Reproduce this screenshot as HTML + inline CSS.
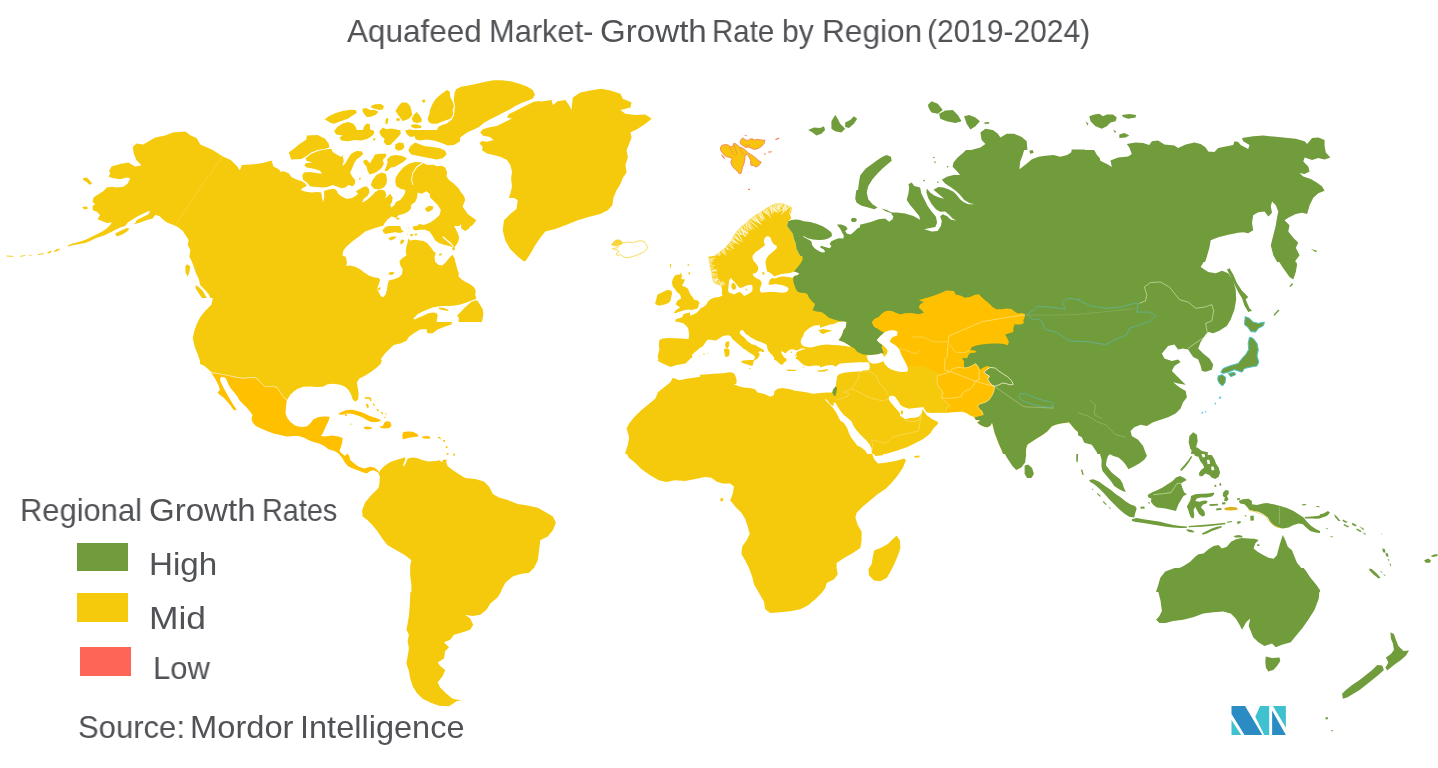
<!DOCTYPE html>
<html><head><meta charset="utf-8"><title>Aquafeed Market - Growth Rate by Region (2019-2024)</title>
<style>
html,body{margin:0;padding:0;background:#fff;}
body{width:1438px;height:768px;position:relative;overflow:hidden;font-family:"Liberation Sans",sans-serif;color:#505256;}
svg{position:absolute;left:0;top:0;}
.t{position:absolute;white-space:nowrap;line-height:1;font-size:32px;transform-origin:0 0;will-change:transform;}
.box{position:absolute;width:51px;height:28px;}
</style></head><body>
<svg width="1438" height="768" viewBox="0 0 1438 768">
<clipPath id="cA1"><rect x="0" y="70" width="360" height="192"/></clipPath>
<g id="tA1" clip-path="url(#cA1)">
<polygon fill="#f6ca0c"  points="5.0,256.5 15.0,257.0 25.0,255.8 37.6,254.8 47.6,252.3 57.6,249.0 67.6,244.7 77.6,242.2 87.6,238.2 100.1,233.2 110.2,227.7 117.7,222.7 113.9,223.2 105.1,222.7 98.1,219.7 100.1,214.7 95.1,210.7 92.1,206.4 93.1,200.2 98.9,194.4 107.7,189.7 117.7,187.2 125.2,185.2 129.7,180.2 122.7,179.2 112.7,178.2 108.9,172.6 111.4,166.4 120.2,164.1 128.2,162.6 135.2,166.6 141.4,165.6 136.4,160.1 133.9,153.9 132.7,147.1 136.4,143.4 143.2,144.4 155.2,137.6 165.2,135.6 172.7,132.6 185.3,131.6 190.8,135.6 196.5,138.1 200.3,144.6 212.8,150.1 222.8,156.4 230.8,160.1 237.3,166.4 239.8,170.6 241.8,165.1 250.4,164.6 262.9,163.1 271.6,160.6 273.4,166.4 278.4,168.9 281.6,172.1 287.9,172.1 295.4,175.1 303.4,182.2 306.7,187.2 315.9,189.7 322.5,190.7 321.7,201.4 325.0,193.2 335.5,188.9 346.0,195.2 353.0,198.2 361.8,196.4 361.8,230.2 355.5,237.7 346.7,245.2 342.5,255.3 345.0,264.0 190.3,264.0 187.3,255.3 185.8,245.2 186.5,235.2 182.8,229.0 175.2,225.2 165.2,222.7 160.2,217.7 153.2,215.2 150.2,211.7 140.2,214.7 130.2,218.2 120.2,222.0 112.7,227.2 100.1,234.7 87.6,240.2 77.6,243.7 67.6,246.2 57.6,250.5 47.6,253.8 37.6,256.0 25.0,257.3 5.0,257.8"/>
<polygon fill="#f6ca0c"  points="82.6,178.2 87.6,177.7 91.4,181.4 90.1,184.7 86.4,182.7 83.9,180.7"/>
<polygon fill="#f6ca0c"  points="82.1,206.4 87.6,206.4 88.1,208.9 83.9,209.2"/>
<polygon fill="#f6ca0c"  points="115.2,234.0 122.7,230.2 128.9,227.7 128.2,230.7 120.2,235.2 115.7,236.5"/>
<polygon fill="#f6ca0c"  points="135.2,222.7 142.7,217.7 150.2,214.0 156.5,215.2 150.2,220.2 140.2,224.0"/>
<polygon fill="#f6ca0c"  points="289.2,151.4 297.9,145.1 305.9,135.6 317.9,134.6 328.0,138.8 329.2,147.6 323.0,149.6 310.4,153.9 300.4,158.1 290.4,159.6"/>
<polygon fill="#f6ca0c"  points="302.9,165.1 310.4,158.1 323.0,152.6 331.7,149.6 338.0,153.9 343.0,157.6 341.0,166.4 349.2,155.1 355.5,151.4 361.8,150.6 361.8,190.2 355.5,191.4 348.0,189.7 338.0,186.4 325.5,187.7 312.9,187.2 303.4,181.4 301.7,173.9 317.9,172.6 304.2,168.9"/>
<polygon fill="#f6ca0c"  points="325.0,118.8 333.0,115.1 345.5,111.3 355.5,110.1 358.0,115.1 350.5,118.8 355.5,122.6 361.8,123.8 361.8,140.1 350.5,141.3 340.5,138.8 334.2,133.8 338.0,128.8 331.7,126.3 333.0,122.1"/>
</g>
<clipPath id="cA2"><rect x="360" y="70" width="360" height="192"/></clipPath>
<g id="tA2" clip-path="url(#cA2)">
<polygon fill="#f6ca0c"  points="480.2,131.3 490.2,127.6 500.2,125.6 507.7,121.3 506.5,117.6 512.7,113.8 522.7,110.1 525.2,105.0 532.7,102.5 542.8,101.3 551.5,100.0 552.8,105.0 557.8,101.3 565.3,100.0 569.0,105.0 571.5,110.1 572.8,97.5 580.3,92.5 592.8,90.0 601.6,88.8 610.4,90.5 620.4,93.8 622.9,98.8 631.6,102.5 630.4,107.6 620.4,110.1 625.4,113.8 635.4,115.1 645.4,114.6 651.7,118.8 645.4,123.8 637.9,128.8 630.4,132.6 631.6,137.6 629.1,143.9 626.6,150.1 627.9,157.6 625.4,165.1 626.6,172.6 622.9,177.7 620.4,183.9 616.6,190.2 613.4,197.7 612.4,205.2 607.8,210.2 600.3,214.0 590.3,216.5 577.8,220.2 565.3,225.2 555.3,229.0 545.3,231.5 540.3,237.7 535.2,245.2 530.2,254.0 525.7,260.8 524.0,261.5 517.7,256.5 510.2,249.0 505.2,240.2 502.7,230.2 504.0,220.2 510.2,214.0 516.5,208.9 517.7,200.2 510.2,195.2 511.5,187.7 512.7,177.7 510.2,167.6 509.0,160.1 502.7,156.4 492.7,153.9 483.9,152.6 480.2,147.6 482.7,142.6 478.9,137.6"/>
<polygon fill="#f6ca0c"  points="455.1,88.8 470.2,83.8 490.2,80.5 507.7,80.5 522.7,83.8 532.7,90.0 534.5,96.3 525.2,101.3 517.7,107.1 507.7,112.1 495.2,118.1 485.2,122.1 477.7,127.1 470.2,133.1 462.6,138.1 457.6,141.3 458.9,145.1 447.6,146.4 435.1,143.1 423.8,140.6 420.1,137.1 427.6,134.1 435.1,131.6 432.6,126.6 427.6,123.1 427.6,115.6 433.1,111.3 430.1,106.6 435.1,100.0 442.6,93.8 448.9,90.5 450.6,97.5 453.9,95.0"/>
<polygon fill="#f6ca0c"  points="408.8,145.1 417.6,142.6 425.1,143.9 435.1,145.1 445.1,148.1 446.4,153.9 440.1,158.1 430.1,157.6 420.1,156.4 411.3,153.9 407.6,149.6"/>
<polygon fill="#f6ca0c"  points="362.5,110.1 370.0,107.6 375.0,105.0 382.5,104.5 383.8,108.8 377.5,111.3 372.5,115.1 367.5,117.1 363.0,114.6"/>
<polygon fill="#f6ca0c"  points="396.3,107.6 402.6,102.5 408.8,103.8 411.3,110.1 407.6,116.3 410.1,120.1 405.1,121.3 400.1,117.6 395.0,112.6"/>
<polygon fill="#f6ca0c"  points="411.3,118.8 416.3,112.6 421.3,118.8 422.1,123.1 413.8,123.1"/>
<polygon fill="#f6ca0c"  points="421.3,100.0 425.6,98.8 426.3,102.0 422.6,103.0"/>
<polygon fill="#f6ca0c"  points="358.7,128.8 365.0,123.8 370.0,123.8 368.8,131.3 373.8,133.8 372.5,138.8 365.0,140.1 358.7,139.6"/>
<polygon fill="#f6ca0c"  points="385.0,118.8 388.8,117.6 388.0,123.8 385.0,123.8"/>
<polygon fill="#f6ca0c"  points="380.0,130.1 385.0,128.1 391.3,131.3 400.1,130.1 397.6,137.6 392.5,143.9 386.3,145.1 381.3,137.6"/>
<polygon fill="#f6ca0c"  points="406.3,130.1 411.3,129.6 416.3,135.6 412.6,137.1 407.6,134.6"/>
<polygon fill="#f6ca0c"  points="396.3,143.9 401.3,142.6 403.8,148.9 400.1,150.6 396.3,148.1"/>
<polygon fill="#f6ca0c"  points="363.8,161.4 370.0,156.4 377.5,153.9 385.0,154.6 383.8,160.1 378.8,165.1 373.8,170.1 368.8,173.9 365.0,168.9"/>
<polygon fill="#f6ca0c"  points="385.0,161.4 391.3,156.4 400.1,155.1 406.3,157.6 402.6,163.1 395.0,165.1 390.0,168.9 386.3,166.4"/>
<polygon fill="#f6ca0c"  points="396.3,180.2 400.1,175.1 406.3,168.9 413.8,163.1 421.3,162.1 423.8,166.4 416.3,168.9 411.3,175.1 413.8,180.2 420.1,172.6 426.3,166.4 432.6,165.1 440.1,166.4 446.4,170.1 447.6,175.1 451.4,181.4 458.9,187.7 463.9,193.9 465.1,200.2 462.6,206.4 467.7,214.0 476.4,220.2 471.4,226.5 465.1,230.2 460.1,224.0 456.4,230.2 458.9,236.5 453.9,242.7 448.9,245.2 442.6,240.2 436.4,234.0 432.6,229.0 423.8,230.2 416.3,229.0 413.8,225.2 422.6,222.7 430.1,220.2 437.6,217.7 440.1,211.4 435.1,206.4 431.3,200.2 427.6,193.9 420.1,191.4 411.3,189.7 402.6,187.7 397.6,185.2"/>
<polygon fill="#f6ca0c"  points="358.7,178.2 367.5,175.1 375.0,171.4 383.8,171.4 386.3,177.7 385.0,186.4 388.8,192.7 392.5,195.2 391.3,202.7 393.8,206.4 400.1,200.2 406.3,193.9 413.8,192.7 417.6,196.4 413.8,203.9 408.8,210.2 402.6,215.2 395.0,216.5 390.0,212.7 385.0,220.2 377.5,225.2 370.0,230.2 362.5,234.0 358.7,234.0"/>
<polygon fill="#f6ca0c"  points="382.5,230.2 387.5,224.0 391.3,217.7 397.6,222.7 403.8,230.2 400.1,234.0 390.0,234.0 385.0,232.7"/>
<polygon fill="#f6ca0c"  points="400.1,264.0 406.3,250.3 410.1,241.5 420.1,240.2 427.6,242.7 433.9,250.3 435.1,257.8 432.6,264.0"/>
<polygon fill="#f6ca0c"  points="446.4,264.0 450.1,256.5 453.9,256.5 455.1,264.0"/>
<polygon fill="#f6ca0c"  points="425.1,207.7 431.3,205.2 435.1,207.7 428.8,211.4"/>
<polygon fill="#ffffff" stroke="#f5c80f" stroke-width="0.7" points="611.6,245.2 615.4,241.5 621.6,240.2 625.4,242.7 632.9,242.2 640.4,241.5 645.4,242.7 647.4,247.2 642.9,251.5 635.4,255.3 627.9,257.3 620.4,255.3 615.4,251.5 612.4,249.0"/>
<polygon fill="#f6ca0c"  points="709.2,257.8 715.5,252.8 721.8,250.3 721.8,264.0 710.5,264.0"/>
</g>
<clipPath id="cA3"><rect x="720" y="70" width="360" height="192"/></clipPath>
<g id="tA3" clip-path="url(#cA3)">
<polygon fill="#709c3c"  points="802.6,264.0 797.6,250.3 793.9,240.2 790.1,232.7 787.6,225.2 791.3,221.5 797.6,219.7 805.1,221.5 815.1,223.2 825.1,226.5 831.4,231.5 830.2,237.7 822.6,240.7 815.1,240.2 807.6,238.2 803.9,236.5 810.1,242.7 813.9,248.2 820.1,250.8 822.6,252.8 826.4,249.0 830.2,245.2 831.4,242.7 837.7,240.2 842.7,237.7 841.4,232.7 837.7,226.5 842.7,224.0 847.7,226.5 846.4,231.5 850.2,232.7 856.4,229.0 862.7,225.2 870.2,222.7 880.2,221.5 886.5,219.0 892.7,220.2 891.5,215.2 885.2,212.7 882.7,208.9 890.2,212.7 897.7,212.2 905.3,214.0 912.8,216.5 919.0,219.7 915.3,212.7 910.3,206.4 906.5,200.2 909.0,190.2 911.5,186.4 920.3,187.7 924.0,197.7 927.8,206.4 932.8,215.2 936.6,222.7 934.0,227.7 925.3,229.0 935.3,230.2 940.3,222.7 939.1,216.5 945.3,214.0 952.8,220.2 955.3,220.2 946.6,212.7 940.3,211.4 932.8,205.2 927.8,196.4 925.3,190.2 932.8,195.2 942.8,198.9 935.3,192.7 932.8,187.7 940.3,186.4 950.3,188.9 956.6,193.9 961.6,200.2 970.4,203.9 964.1,200.2 960.3,193.9 955.3,190.2 945.3,183.9 941.6,178.9 947.8,175.1 956.6,173.9 951.6,167.6 954.1,162.6 960.3,157.6 966.6,152.6 972.9,149.6 980.4,147.6 985.4,143.9 981.6,140.1 980.4,132.6 985.4,128.8 992.9,130.1 997.9,133.8 1000.4,137.6 1006.7,133.8 1014.2,133.8 1021.7,137.1 1026.7,141.3 1027.4,150.1 1024.2,157.6 1020.4,165.1 1019.2,170.1 1025.4,165.1 1030.4,160.1 1037.9,156.4 1050.5,155.1 1060.5,156.4 1070.5,152.6 1071.7,149.6 1078.0,149.6 1081.8,151.4 1081.8,264.0"/>
<polygon fill="#709c3c"  points="880.2,157.6 886.5,155.1 891.5,157.6 891.5,162.1 885.2,166.4 880.2,171.4 875.2,177.7 870.2,185.2 867.7,192.7 869.0,200.2 874.0,205.2 877.7,208.9 870.2,208.2 861.4,205.2 855.2,200.2 857.7,192.7 858.9,182.7 860.2,175.1 865.2,168.9 871.5,163.9"/>
<polygon fill="#709c3c"  points="927.8,105.0 931.5,101.3 937.8,103.8 942.8,110.1 937.8,113.8 931.5,112.6 929.0,108.8"/>
<polygon fill="#709c3c"  points="939.1,113.8 945.3,110.6 952.8,110.1 957.8,115.1 961.6,121.3 955.3,123.1 946.6,121.3 940.3,118.8"/>
<polygon fill="#709c3c"  points="964.1,116.3 969.1,115.1 975.4,117.6 979.9,121.3 975.4,126.3 970.4,129.6 966.6,123.8"/>
<polygon fill="#709c3c"  points="984.1,122.6 989.1,122.1 989.1,123.8 984.9,124.1"/>
<polygon fill="#709c3c"  points="808.1,130.1 813.9,127.6 820.1,128.1 823.9,126.3 825.1,130.1 821.4,133.8 816.4,135.6 812.6,132.6"/>
<polygon fill="#709c3c"  points="831.4,121.3 835.2,115.1 837.7,118.8 840.2,123.8 845.2,128.8 841.4,132.6 835.2,131.3 831.4,128.8"/>
<polygon fill="#709c3c"  points="845.2,122.6 850.2,120.1 853.9,116.3 857.2,118.8 853.9,123.8 848.9,128.1 845.2,127.1"/>
<polygon fill="#709c3c"  points="1029.2,150.6 1033.4,150.1 1034.2,153.1 1030.4,153.9"/>
<polygon fill="#709c3c"  points="851.4,219.0 856.4,217.7 857.2,221.0 852.7,222.0"/>
<polygon fill="#fdbc14" stroke="#f9844a" stroke-width="0.6" points="720.0,146.4 727.5,144.6 733.8,145.1 738.8,142.6 743.8,147.6 747.5,152.6 752.5,156.4 757.6,160.1 760.1,163.9 756.3,167.1 751.3,165.1 749.5,160.1 745.0,158.9 743.8,166.4 741.3,172.6 738.8,173.9 735.0,168.9 731.3,163.9 730.0,158.9 723.8,156.4 721.3,151.4"/>
<polygon fill="#fdbc14" stroke="#f9844a" stroke-width="0.6" points="740.0,141.3 745.0,138.1 752.5,138.8 761.3,139.6 765.6,141.3 762.6,146.4 757.6,149.6 750.0,148.9 745.0,145.1"/>
<polygon fill="#f9844a"  points="775.1,138.8 779.6,137.6 779.1,139.6 775.6,140.6"/>
<polygon fill="#f9844a"  points="765.1,153.1 767.6,152.6 767.1,154.6"/>
<polygon fill="#f9844a"  points="768.8,151.4 772.1,150.6 771.6,152.6"/>
<polygon fill="#f9844a"  points="748.0,188.9 750.0,188.4 750.0,190.7 748.3,190.7"/>
<polygon fill="#fdf4cc" stroke="#f5c80f" stroke-width="0.6" points="718.7,264.0 722.5,255.3 727.5,245.2 733.8,235.2 741.3,225.2 750.0,216.5 760.1,210.2 770.1,205.2 780.1,203.9 790.1,206.4 792.1,212.7 787.6,217.7 785.6,220.2 777.6,216.5 770.1,217.7 762.6,220.2 755.0,225.2 747.5,232.7 741.3,242.7 735.0,252.8 730.0,264.0"/>
<polygon fill="#f6ca0c"  points="802.6,264.0 797.6,250.3 793.9,240.2 790.1,232.7 787.6,225.2 785.6,220.2 777.6,216.5 770.1,217.7 762.6,220.2 755.0,225.2 747.5,232.7 741.3,242.7 735.0,252.8 730.0,264.0"/>
<polygon fill="#ffffff"  points="767.6,235.2 771.3,238.2 771.3,244.0 777.6,245.2 776.3,250.3 770.1,254.0 763.8,259.0 757.6,264.0 752.0,264.0 753.8,256.5 758.8,250.3 763.8,244.0 764.6,238.2"/>
</g>
<clipPath id="cA4"><rect x="1078" y="70" width="360" height="192"/></clipPath>
<g id="tA4" clip-path="url(#cA4)">
<polygon fill="#709c3c"  points="1076.7,149.6 1084.3,149.6 1090.5,152.6 1095.5,157.6 1101.8,161.4 1108.0,164.6 1111.8,167.1 1110.5,160.6 1118.1,157.6 1128.1,156.4 1131.8,153.9 1129.3,147.6 1126.8,143.9 1135.6,142.6 1143.1,143.1 1149.3,145.1 1151.9,141.3 1158.1,140.6 1164.4,144.6 1174.4,145.6 1178.1,148.1 1185.7,144.6 1194.4,142.6 1200.7,143.9 1205.7,147.6 1208.2,151.4 1214.4,152.1 1218.2,148.1 1225.7,146.4 1233.2,145.1 1234.5,141.3 1238.2,142.1 1240.7,145.1 1248.2,148.9 1249.5,145.1 1243.2,141.3 1242.0,138.1 1253.2,136.3 1263.3,135.6 1273.3,136.6 1283.3,137.6 1295.8,138.8 1304.6,141.3 1307.1,143.9 1312.1,138.1 1318.3,137.6 1324.6,140.1 1324.6,146.4 1325.8,152.6 1330.4,157.6 1324.6,159.6 1318.3,158.1 1312.1,160.1 1304.6,157.6 1303.3,161.4 1308.3,166.4 1309.6,171.4 1304.6,173.9 1299.6,173.1 1303.3,176.4 1310.8,178.9 1317.1,182.7 1322.1,186.4 1324.6,190.7 1318.3,193.2 1313.3,197.7 1309.6,205.2 1307.1,214.0 1302.1,212.7 1295.8,214.0 1288.3,217.7 1284.5,220.2 1289.5,225.2 1288.3,231.5 1293.3,237.7 1298.3,242.7 1295.8,247.7 1299.6,255.3 1295.8,260.3 1294.6,264.0 1278.3,264.0 1273.3,255.3 1270.8,245.2 1273.3,235.2 1275.8,225.2 1277.0,217.7 1278.3,211.4 1275.8,205.2 1272.0,201.4 1270.8,206.4 1272.0,212.7 1268.3,216.5 1264.5,211.4 1258.3,212.2 1253.2,215.2 1252.0,222.7 1253.2,230.2 1248.2,233.2 1243.2,232.2 1238.2,232.7 1228.2,234.7 1218.2,237.2 1210.7,240.2 1209.4,247.7 1206.9,256.5 1204.4,264.0 1076.7,264.0"/>
<polygon fill="#709c3c"  points="1089.3,116.3 1094.3,114.6 1099.3,113.8 1103.0,116.3 1106.8,114.6 1113.0,114.6 1116.8,117.6 1115.6,121.3 1110.5,122.6 1106.8,126.3 1101.8,128.8 1095.5,126.3 1090.5,121.3"/>
<polygon fill="#709c3c"  points="1121.8,115.1 1129.3,114.1 1136.1,115.1 1135.6,117.6 1128.1,118.8 1123.1,117.1"/>
<polygon fill="#709c3c"  points="1119.3,134.6 1124.3,133.1 1129.3,135.6 1125.6,137.6 1119.3,138.1"/>
<polygon fill="#709c3c"  points="1085.5,121.3 1088.5,123.8 1087.5,125.6"/>
<polygon fill="#709c3c"  points="1113.0,130.1 1116.1,131.3 1115.1,133.1"/>
<polygon fill="#709c3c"  points="1310.8,249.0 1317.1,250.8 1315.8,252.3"/>
</g>
<clipPath id="cB1"><rect x="0" y="262" width="360" height="192"/></clipPath>
<g id="tB1" clip-path="url(#cB1)">
<polygon fill="#f6ca0c"  points="194.0,260.7 197.8,269.5 200.3,277.0 197.8,284.5 202.8,287.0 209.0,292.0 212.8,298.3 211.5,304.6 205.3,310.8 200.3,317.1 196.5,324.6 194.0,332.1 192.8,338.4 194.8,347.1 197.8,354.6 200.3,362.1 205.3,365.9 211.5,369.7 212.8,372.7 225.3,374.7 237.8,377.7 247.8,377.7 255.4,377.2 261.6,382.2 265.4,385.9 275.4,385.9 280.4,390.9 284.1,395.9 287.9,399.2 290.4,393.4 295.4,389.2 302.9,386.7 312.9,387.2 320.4,386.7 328.0,383.4 336.7,384.2 344.2,385.9 349.2,390.9 350.5,397.2 354.2,401.7 358.0,399.2 358.5,392.2 356.7,384.7 361.8,379.7 361.8,260.7"/>
<polygon fill="#f6ca0c"  points="185.8,265.8 190.3,264.5 190.8,269.5 187.8,275.8 185.8,272.0"/>
<polygon fill="#ffc000"  points="212.3,372.7 225.3,375.2 237.8,378.2 247.8,378.2 255.4,377.7 261.6,382.7 265.4,386.4 275.4,386.4 280.4,391.4 284.1,396.4 287.9,399.7 286.7,407.2 285.4,414.7 287.9,421.0 294.2,426.0 302.9,427.2 310.4,424.7 314.2,418.5 323.0,416.7 330.5,416.7 328.0,422.2 324.2,428.5 320.4,433.5 316.7,434.7 311.7,434.7 310.4,441.0 306.7,442.3 300.4,438.5 292.9,434.7 282.9,434.7 272.9,432.2 262.9,428.5 255.4,423.5 251.6,418.5 250.4,412.2 246.6,407.2 241.6,402.2 236.6,395.9 231.6,389.7 227.8,383.4 225.3,378.4 220.3,377.2 221.6,382.2 225.3,389.7 230.3,398.4 235.3,406.0 236.6,409.7 232.8,409.2 227.8,403.4 221.6,395.9 217.8,392.2 219.1,387.2 215.3,380.9 212.8,375.9"/>
<polygon fill="#ffc000"  points="306.7,442.3 310.4,441.0 311.7,434.7 316.7,434.7 320.4,433.5 324.2,437.2 333.0,435.2 342.5,437.2 341.7,444.8 339.2,452.3 336.7,456.0 328.0,456.0 323.0,449.8 315.4,444.8 310.4,444.3"/>
<polygon fill="#ffc000"  points="336.7,413.5 344.2,411.0 353.0,409.7 361.8,411.0 361.8,414.7 353.0,412.7 345.5,413.5 339.2,415.2"/>
</g>
<clipPath id="cB2"><rect x="360" y="262" width="360" height="192"/></clipPath>
<g id="tB2" clip-path="url(#cB2)">
<polygon fill="#f6ca0c"  points="358.7,269.5 367.5,273.8 375.0,277.5 379.5,280.0 378.5,287.0 380.0,294.5 383.8,297.5 386.5,292.0 387.5,283.5 392.5,280.0 400.1,276.0 403.1,269.5 401.6,263.3 397.6,260.7 435.1,260.7 437.6,264.5 443.9,265.0 446.4,260.7 456.4,260.7 457.6,269.5 460.1,277.0 466.4,283.3 472.7,288.3 475.7,293.3 473.9,299.6 467.7,302.1 460.1,304.6 452.6,307.1 445.1,308.3 437.6,307.1 431.3,310.8 425.1,312.1 418.8,314.6 412.6,318.3 417.6,317.1 425.1,313.3 432.6,310.8 440.1,312.1 446.4,315.8 452.6,320.8 451.4,324.6 445.1,326.6 437.6,329.6 432.6,333.3 427.6,333.3 426.3,329.1 420.1,329.6 413.8,333.3 408.8,337.1 406.3,340.9 400.1,343.4 393.8,345.1 390.0,348.4 385.0,353.4 381.3,358.4 380.0,363.4 375.0,368.4 368.8,372.2 362.5,375.2 358.7,376.2"/>
<polygon fill="#f6ca0c"  points="388.8,272.0 393.8,271.5 394.3,274.5 389.3,275.0"/>
<polygon fill="#f6ca0c"  points="456.4,314.6 460.1,310.8 466.4,304.6 472.7,302.1 475.7,303.3 473.9,308.3 480.2,310.8 482.7,315.8 481.4,320.8 476.4,322.1 472.7,319.1 466.4,319.6 460.1,317.6"/>
<polygon fill="#f6ca0c"  points="440.1,307.6 448.9,308.6 448.9,310.6 440.6,309.6"/>
<polygon fill="#ffc000"  points="358.7,412.2 365.0,414.2 371.3,416.7 377.5,419.2 381.3,421.0 377.5,422.7 370.0,421.0 363.8,417.7 358.7,416.0"/>
<polygon fill="#f6ca0c"  points="363.0,426.7 368.8,426.0 372.5,427.7 368.8,429.7 363.8,429.2"/>
<polygon fill="#f6ca0c"  points="379.5,426.0 383.8,422.2 388.8,421.0 392.0,423.5 390.5,427.7 385.0,428.5 381.3,427.7"/>
<polygon fill="#f6ca0c"  points="402.1,434.7 403.8,431.7 410.1,431.2 416.3,433.5 418.8,436.0 416.3,438.5 410.1,438.5 403.8,439.7"/>
<polygon fill="#f6ca0c"  points="422.6,436.0 430.1,436.7 431.3,438.2 423.8,438.2"/>
<polygon fill="#f6ca0c"  points="438.1,437.2 440.1,437.2 440.1,439.5 438.1,439.5"/>
<polygon fill="#f6ca0c"  points="442.6,441.0 444.6,441.0 444.6,443.3 442.6,443.3"/>
<polygon fill="#f6ca0c"  points="445.1,446.0 447.1,446.0 447.1,448.3 445.1,448.3"/>
<polygon fill="#f6ca0c"  points="446.4,450.3 448.4,450.3 448.4,452.5 446.4,452.5"/>
<polygon fill="#f6ca0c"  points="365.0,397.4 371.5,397.4 371.5,399.2 365.0,399.2"/>
<polygon fill="#f6ca0c"  points="367.5,404.7 369.5,404.7 369.5,407.2 367.5,407.2"/>
<polygon fill="#f6ca0c"  points="373.8,406.2 376.0,406.2 376.0,409.2 373.8,409.2"/>
<polygon fill="#f6ca0c"  points="381.5,411.2 384.8,411.2 384.8,413.7 381.5,413.7"/>
<polygon fill="#f6ca0c"  points="655.4,302.1 657.9,294.5 664.2,290.8 670.4,289.5 672.9,293.3 671.7,299.6 666.7,303.3 660.4,305.8"/>
<polygon fill="#f6ca0c"  points="672.9,274.5 676.7,275.8 681.7,278.3 683.0,283.3 680.4,287.0 685.5,288.3 690.5,293.3 694.2,299.6 699.2,302.1 698.0,307.1 693.0,309.6 685.5,310.8 677.9,312.1 674.2,313.3 677.9,308.3 683.0,305.8 677.9,303.3 679.2,297.0 676.7,292.0 677.9,287.0 672.9,284.5 671.7,279.5"/>
<polygon fill="#f6ca0c"  points="709.2,260.7 710.5,269.5 713.0,277.0 716.7,283.3 721.8,285.8 721.8,260.7"/>
<polygon fill="#f6ca0c"  points="721.8,297.0 715.5,299.6 709.2,302.1 703.0,305.8 698.0,310.8 693.0,314.6 683.0,315.8 676.7,318.3 674.2,322.1 680.4,323.3 685.5,325.8 688.0,330.8 689.2,337.1 683.0,338.4 672.9,338.4 664.2,339.1 659.2,340.9 657.9,348.4 659.2,354.6 657.9,360.9 662.9,363.4 670.4,367.1 676.7,365.1 685.5,363.4 690.5,358.4 695.5,352.1 701.7,347.1 706.7,342.1 713.0,340.1 721.8,341.6"/>
<polygon fill="#f6ca0c"  points="701.7,354.6 706.7,353.4 707.5,355.1 702.5,356.1"/>
<polygon fill="#f6ca0c"  points="721.8,373.4 710.5,374.7 700.5,376.7 688.0,378.4 679.2,380.2 672.9,377.7 670.4,382.2 664.2,387.2 657.9,392.2 655.4,398.4 647.9,404.7 640.4,411.0 634.1,417.2 629.1,423.5 626.6,428.5 629.1,437.2 627.9,444.8 625.4,452.3 624.9,456.0 721.8,456.0"/>
</g>
<clipPath id="cB3a"><rect x="720" y="262" width="180" height="96"/></clipPath>
<g id="tB3a" clip-path="url(#cB3a)">
<polygon fill="#f6ca0c"  points="719.4,261.4 900.9,261.4 900.9,359.0 719.4,359.0"/>
<polygon fill="#709c3c"  points="801.4,261.4 797.6,267.0 795.1,272.0 793.9,277.0 793.2,282.0 795.1,287.0 798.2,291.4 802.6,293.3 807.6,294.8 809.5,298.3 812.6,302.1 815.1,303.9 813.9,307.1 812.6,310.2 816.4,311.4 821.4,312.1 825.1,314.6 828.9,317.7 833.9,319.6 838.3,320.8 842.7,321.5 846.4,322.1 845.8,327.1 843.3,330.2 842.0,334.6 840.2,337.7 838.3,340.2 843.3,342.1 848.9,345.2 854.6,348.4 856.4,350.9 858.9,352.8 863.9,354.6 870.2,355.3 876.5,354.6 882.7,354.0 884.6,352.1 881.5,348.4 879.6,344.6 877.1,342.1 876.5,339.6 879.0,337.1 882.7,335.2 881.5,332.1 877.1,329.0 873.3,325.8 872.1,322.1 874.6,319.0 879.0,317.1 881.5,313.9 885.2,311.4 889.0,310.8 892.7,311.4 896.5,313.3 900.9,314.6 900.9,261.4"/>
<polygon fill="#ffc000"  points="900.9,314.6 896.5,313.3 892.7,311.4 889.0,310.8 885.2,311.4 881.5,313.9 879.0,317.1 874.6,319.0 872.1,322.1 873.3,325.8 877.1,329.0 881.5,332.1 882.7,334.0 886.5,331.5 891.5,330.2 895.2,330.6 897.1,332.1 897.7,334.6 900.9,336.5"/>
<polygon fill="#ffc000"  points="900.9,336.9 896.5,337.4 892.7,339.0 889.6,341.5 892.1,343.4 895.2,344.6 897.7,347.1 899.0,349.6 900.9,351.1"/>
<polygon fill="#ffffff"  points="882.7,334.0 886.5,331.5 891.5,330.2 895.2,330.6 897.1,332.1 897.7,334.6 900.9,336.5 900.9,336.9 896.5,337.4 892.7,339.0 889.6,341.5 892.1,343.4 895.2,344.6 897.7,347.1 899.0,349.6 900.9,351.1 900.9,359.0 888.4,359.0 887.7,354.6 887.1,349.6 884.6,345.6 880.8,344.0 877.7,343.1 876.2,340.2 878.3,337.7"/>
<polygon fill="#ffffff"  points="753.2,261.4 756.3,267.0 757.6,270.8 754.4,272.6 752.3,274.5 752.8,277.6 756.3,278.9 758.2,282.0 755.0,283.9 753.2,287.0 753.8,290.2 750.0,289.5 746.3,286.4 742.5,288.9 740.0,291.4 743.8,295.2 746.9,293.9 751.3,291.4 756.3,290.5 760.1,292.0 763.2,292.7 770.1,292.0 776.3,292.3 782.6,292.7 787.6,291.4 788.6,288.3 786.3,285.8 781.3,284.8 776.3,284.3 772.6,284.5 768.8,284.3 768.2,282.0 770.1,278.9 773.8,277.6 775.1,276.0 778.8,275.1 785.1,274.5 790.1,275.8 793.9,277.6 795.1,275.1 798.9,273.9 797.0,272.3 792.6,272.6 787.6,273.0 782.6,273.3 777.6,274.5 773.8,275.1 770.1,273.9 766.9,272.0 766.1,268.3 766.3,261.4"/>
<polygon fill="#ffffff"  points="729.4,279.5 731.9,278.3 733.1,282.0 735.0,280.8 736.9,283.9 738.8,287.0 737.5,291.4 734.4,292.7 731.9,290.2 730.0,291.4 728.8,287.0"/>
<polygon fill="#ffffff"  points="719.4,286.4 721.9,287.0 722.5,292.0 721.9,296.0 719.4,296.8"/>
<polygon fill="#ffffff"  points="740.0,330.8 743.2,330.2 745.0,333.3 748.8,337.1 753.8,340.9 758.8,343.4 763.8,345.2 766.3,348.4 768.2,352.1 769.4,355.3 772.6,359.0 766.3,359.0 763.2,355.3 763.8,352.1 761.9,349.6 757.6,348.4 753.2,345.9 749.4,342.7 745.7,339.6 742.5,337.1 740.0,334.6"/>
<polygon fill="#ffffff"  points="719.4,338.4 723.8,336.5 727.5,335.6 731.3,337.1 733.8,340.2 736.9,342.1 740.7,344.0 745.0,347.1 748.8,349.6 752.5,352.1 755.7,354.6 756.3,359.0 719.4,359.0"/>
<polygon fill="#f6ca0c"  points="725.6,342.1 728.8,341.5 729.4,344.6 728.8,349.6 729.4,354.6 727.5,357.1 725.0,355.9 724.4,350.9 725.0,345.9"/>
<polygon fill="#ffffff"  points="781.3,350.9 785.1,349.6 790.1,349.0 793.9,349.6 797.0,348.4 801.4,347.7 805.1,348.4 800.1,350.2 797.0,351.5 796.4,355.3 795.1,359.0 782.0,359.0 782.6,355.3"/>
<polygon fill="#ffffff"  points="801.4,337.1 803.9,332.1 807.6,327.7 811.4,326.1 815.1,326.5 818.9,328.3 822.6,327.1 826.4,325.8 830.2,324.6 833.9,324.0 838.3,322.1 842.7,321.5 846.4,322.1 845.8,327.1 843.3,330.2 842.0,334.6 840.2,337.7 838.3,340.2 843.3,342.1 848.9,345.2 850.8,347.1 845.2,346.1 838.9,345.2 832.7,344.9 826.4,344.6 820.1,345.2 813.9,346.5 807.6,347.1 803.2,345.9 801.1,342.1"/>
<polygon fill="#f6ca0c"  points="818.9,330.2 822.6,329.0 826.4,329.6 830.2,330.2 832.7,330.6 828.9,331.8 825.8,332.7 823.3,334.0 820.1,332.7"/>
</g>
<clipPath id="cB3b"><rect x="900" y="262" width="180" height="96"/></clipPath>
<g id="tB3b" clip-path="url(#cB3b)">
<polygon fill="#709c3c"  points="899.4,261.4 1080.9,261.4 1080.9,359.0 899.4,359.0"/>
<polygon fill="#ffc000"  points="899.4,314.6 905.0,313.3 911.3,313.1 918.8,314.3 923.8,312.7 921.9,310.2 918.8,307.7 920.0,304.6 923.8,302.1 918.8,300.2 922.5,298.9 928.8,297.3 935.0,295.2 941.3,292.7 946.3,290.5 953.8,291.0 955.7,294.5 960.1,295.5 965.1,297.7 970.1,297.0 975.1,294.8 978.9,294.3 981.4,297.0 985.1,300.2 988.9,303.3 992.6,307.1 996.4,309.3 1001.4,309.3 1006.4,308.6 1011.4,308.9 1015.2,312.1 1018.3,313.6 1022.0,313.1 1025.2,314.6 1024.5,317.7 1023.3,320.8 1023.9,323.3 1020.2,324.6 1014.5,324.3 1013.3,328.3 1013.3,332.1 1008.9,333.3 1005.1,334.6 1007.0,337.7 1008.9,342.1 1007.6,345.2 1003.9,344.0 998.9,343.4 992.6,343.6 986.4,344.0 981.4,344.6 976.4,345.6 972.0,347.1 970.1,350.2 973.2,350.2 976.4,351.1 975.1,352.8 970.1,353.1 968.2,355.3 967.0,359.0 899.4,359.0"/>
</g>
<clipPath id="cB3c"><rect x="720" y="358" width="180" height="96"/></clipPath>
<g id="tB3c" clip-path="url(#cB3c)">
<polygon fill="#f6ca0c"  points="719.4,357.4 900.9,357.4 900.9,455.0 719.4,455.0"/>
<polygon fill="#ffffff"  points="719.4,357.4 741.3,357.4 741.9,361.1 745.0,363.6 750.0,365.5 751.9,363.0 754.4,359.9 757.6,357.4 772.6,357.4 776.3,360.5 780.1,364.3 783.8,363.0 787.0,359.3 787.6,357.4 795.1,357.4 800.1,361.8 806.4,364.9 812.6,366.8 820.1,367.4 826.4,365.5 832.7,364.9 835.8,366.8 837.7,364.9 840.2,363.6 846.4,363.0 855.2,362.4 867.7,361.8 869.6,365.5 870.2,370.5 865.2,371.1 857.7,371.5 850.2,372.0 843.9,372.8 838.9,374.3 837.0,376.8 836.4,381.2 835.8,386.2 833.3,389.3 832.0,392.4 826.4,392.4 820.1,393.0 812.6,393.7 807.6,392.4 801.4,391.5 795.1,390.8 790.1,389.3 782.6,388.0 777.6,388.7 774.5,391.2 773.8,394.9 770.7,396.8 767.6,395.6 763.8,393.7 757.6,392.4 755.0,389.3 750.0,388.0 743.8,387.4 738.8,386.2 733.8,384.3 735.6,380.5 736.3,376.8 734.4,373.6 731.3,372.8 726.3,373.0 719.4,373.6"/>
<polygon fill="#f6ca0c"  points="786.3,369.9 791.3,369.5 796.4,369.9 797.0,370.8 792.0,371.1 787.0,370.8"/>
<polygon fill="#f6ca0c"  points="817.6,370.5 822.6,369.9 827.6,369.0 828.3,369.9 824.5,371.5 819.5,371.8"/>
<polygon fill="#709c3c"  points="833.3,389.3 835.8,386.2 837.0,388.0 836.4,392.4 835.2,396.2 833.9,395.6 832.4,392.4"/>
<polygon fill="#ffffff"  points="825.1,398.7 827.0,399.9 830.2,404.3 833.3,406.2 833.9,402.4 835.8,403.1 837.7,406.8 840.2,410.6 843.9,415.0 847.7,418.1 851.4,421.2 853.3,425.6 855.8,429.3 858.9,433.1 862.7,436.9 866.5,440.6 869.6,444.4 871.5,448.1 872.1,453.1 872.7,455.0 867.7,455.0 865.8,451.3 861.4,447.5 857.1,445.6 854.6,441.9 851.4,438.1 848.9,433.1 847.1,428.1 843.9,423.1 840.2,420.6 838.3,416.8 835.8,411.8 832.7,407.4 828.9,403.7 825.8,400.6"/>
<polygon fill="#ffffff"  points="889.0,396.8 892.1,395.6 895.2,396.8 897.7,400.6 900.9,404.9 900.9,414.3 897.7,410.6 894.0,406.2 890.2,401.8 888.7,399.3"/>
<polygon fill="#ffffff"  points="881.5,455.0 887.7,453.4 894.0,451.6 900.9,449.6 900.9,455.0"/>
<polygon fill="#ffffff"  points="867.1,357.4 868.3,361.1 872.1,363.6 877.1,363.6 880.8,362.4 882.7,361.5 884.6,363.6 888.4,367.4 893.4,370.5 897.7,371.5 900.9,371.8 900.9,357.4"/>
</g>
<clipPath id="cB3d"><rect x="900" y="358" width="180" height="96"/></clipPath>
<g id="tB3d" clip-path="url(#cB3d)">
<polygon fill="#f6ca0c"  points="899.4,357.4 1080.9,357.4 1080.9,455.0 899.4,455.0"/>
<polygon fill="#709c3c"  points="962.6,357.4 962.0,358.6 963.8,361.1 963.8,364.9 964.5,368.0 968.2,367.4 972.6,365.5 975.7,363.6 978.2,366.8 980.1,369.9 982.6,368.0 987.6,366.1 990.1,367.4 986.4,369.9 983.9,372.4 986.4,374.3 989.5,376.2 987.6,379.3 989.5,382.4 992.6,385.5 994.5,387.4 993.9,391.2 992.0,395.6 988.9,399.9 985.1,402.4 980.1,403.7 977.6,406.2 979.5,409.3 982.0,411.2 983.2,415.0 978.2,416.2 974.5,417.5 975.7,420.0 980.1,420.6 977.0,422.5 980.1,425.0 983.9,426.8 987.6,427.5 990.8,425.6 992.0,423.1 993.3,428.1 994.5,433.1 996.4,438.1 998.9,444.4 1001.4,450.0 1003.3,455.0 1025.8,455.0 1026.4,448.1 1027.7,444.4 1032.7,441.2 1037.7,438.1 1042.7,435.0 1047.7,431.2 1051.5,426.8 1055.2,425.0 1060.2,423.7 1065.2,423.1 1069.0,422.5 1071.5,425.6 1074.6,429.3 1077.7,431.9 1078.4,435.0 1080.9,436.2 1080.9,357.4"/>
<polygon fill="#ffc000"  points="902.5,357.4 905.0,361.8 908.8,364.9 913.8,366.8 918.8,365.8 923.8,366.8 928.8,368.6 933.2,370.5 937.6,373.6 937.6,376.8 936.9,381.2 938.2,386.2 941.3,389.9 943.2,393.0 941.3,396.8 943.2,399.9 946.9,402.4 950.1,405.6 946.9,408.1 945.7,411.2 945.1,413.1 950.1,412.5 956.3,412.1 962.6,411.8 966.3,413.1 970.1,415.6 973.9,417.1 978.2,416.2 983.2,415.0 982.0,411.2 979.5,409.3 977.6,406.2 980.1,403.7 985.1,402.4 988.9,399.9 992.0,395.6 993.9,391.2 994.5,387.4 992.6,385.5 989.5,382.4 987.6,379.3 989.5,376.2 986.4,374.3 983.9,372.4 986.4,369.9 990.1,367.4 987.6,366.1 982.6,368.0 980.1,369.9 978.2,366.8 975.7,363.6 972.6,365.5 968.2,367.4 964.5,368.0 963.8,364.9 963.8,361.1 962.0,358.6 962.6,357.4"/>
<polygon fill="#ffffff"  points="899.4,357.4 902.5,357.4 905.0,361.8 907.8,368.0 908.1,371.1 903.8,371.8 899.4,372.0"/>
<polygon fill="#ffffff"  points="899.4,404.3 903.8,407.1 908.8,408.7 915.0,408.1 920.0,407.4 923.2,407.1 925.0,409.9 926.9,412.5 932.5,413.1 938.8,412.8 945.1,413.1 950.1,412.5 956.3,412.1 962.6,411.8 966.3,413.1 970.1,415.6 973.9,417.1 975.7,420.0 980.1,420.6 977.0,422.5 980.1,425.0 983.9,426.8 987.6,427.5 990.8,425.6 992.0,423.1 993.3,428.1 994.5,433.1 996.4,438.1 998.9,444.4 1001.4,450.0 1003.3,455.0 899.4,455.0 899.4,449.4 902.5,448.8 907.5,446.9 912.5,444.4 917.5,441.9 922.5,439.4 926.9,436.2 930.7,433.1 931.9,430.6 935.0,426.8 938.2,423.7 937.6,421.8 932.5,419.3 926.9,415.6 924.4,411.8 922.5,409.3 921.9,413.1 918.8,416.8 915.0,417.8 910.0,418.1 905.0,419.3 901.9,416.8 899.4,415.8"/>
<polygon fill="#ffffff"  points="1025.8,455.0 1026.4,448.1 1027.7,444.4 1032.7,441.2 1037.7,438.1 1042.7,435.0 1047.7,431.2 1051.5,426.8 1055.2,425.0 1060.2,423.7 1065.2,423.1 1069.0,422.5 1071.5,425.6 1074.6,429.3 1077.7,431.9 1078.4,435.0 1080.9,436.2 1080.9,455.0"/>
<polygon fill="#f6ca0c"  points="901.0,410.6 902.8,410.3 903.1,413.1 901.9,415.0 901.0,413.7"/>
</g>
<clipPath id="cB4"><rect x="1078" y="262" width="360" height="192"/></clipPath>
<g id="tB4" clip-path="url(#cB4)">
<polygon fill="#709c3c"  points="1076.7,260.7 1204.4,260.7 1200.7,267.0 1208.2,272.0 1215.7,273.3 1222.0,270.8 1228.2,273.3 1233.2,280.8 1235.7,289.5 1236.2,299.6 1234.5,309.6 1230.7,319.6 1227.0,325.8 1219.4,330.8 1213.2,333.3 1208.2,332.1 1205.7,334.6 1200.7,342.1 1198.2,348.4 1203.2,353.4 1209.4,358.4 1213.2,364.6 1211.9,369.7 1205.7,371.7 1201.9,370.9 1200.7,365.9 1198.2,359.6 1193.2,357.1 1190.7,353.4 1188.2,349.6 1183.1,348.4 1178.1,349.6 1174.4,344.6 1168.1,345.9 1161.9,353.4 1164.4,358.4 1171.9,360.9 1178.1,359.6 1180.6,362.1 1174.4,365.9 1171.9,370.9 1176.9,375.9 1181.9,380.9 1185.7,384.7 1178.1,383.4 1173.1,382.2 1179.4,387.2 1185.7,390.9 1186.9,397.2 1183.1,402.2 1180.6,408.5 1175.6,413.5 1168.1,417.2 1160.6,419.7 1153.1,422.2 1146.8,426.0 1140.6,424.7 1134.3,427.2 1130.6,431.0 1131.8,436.0 1138.1,439.7 1143.1,446.0 1146.8,456.0 1098.0,456.0 1096.8,452.3 1091.8,444.8 1084.3,442.8 1081.8,437.2 1076.7,434.7"/>
<polygon fill="#709c3c"  points="1227.0,269.5 1229.5,268.3 1233.2,274.5 1237.0,283.3 1242.0,290.8 1248.2,297.0 1245.7,299.6 1249.5,308.3 1252.0,310.8 1248.2,312.1 1244.5,305.8 1242.0,298.3 1238.2,292.0 1234.5,284.5 1230.7,277.0"/>
<polygon fill="#709c3c"  points="1278.3,260.7 1283.3,268.3 1289.5,277.0 1293.3,279.5 1295.8,272.0 1297.1,264.5 1295.8,260.7"/>
<polygon fill="#709c3c" stroke="#4cc3d0" stroke-width="1.0" points="1245.2,316.6 1249.5,318.3 1253.2,322.1 1258.3,323.3 1264.5,322.1 1263.3,325.8 1258.3,328.3 1255.7,332.1 1250.7,331.6 1248.2,327.6 1244.5,324.6"/>
<polygon fill="#709c3c" stroke="#4cc3d0" stroke-width="1.0" points="1249.5,337.1 1253.2,338.4 1257.0,343.4 1258.3,349.6 1257.0,355.9 1258.8,362.1 1257.0,365.9 1250.7,367.1 1244.5,368.4 1242.0,372.2 1238.2,370.9 1234.5,369.7 1228.2,372.2 1223.2,373.4 1220.7,372.2 1223.2,368.4 1229.5,365.9 1238.2,363.4 1242.0,358.4 1245.7,354.6 1248.7,349.6 1248.2,343.4"/>
<polygon fill="#709c3c" stroke="#4cc3d0" stroke-width="1.0" points="1218.2,375.9 1222.0,374.7 1225.7,377.2 1225.2,382.2 1222.7,385.9 1219.4,383.4 1217.7,379.7"/>
<polygon fill="#709c3c" stroke="#4cc3d0" stroke-width="1.0" points="1228.2,373.4 1234.5,372.2 1235.7,374.7 1230.7,376.7"/>
<polygon fill="#4cc3d0"  points="1214.4,403.4 1216.2,402.2 1215.7,404.7"/>
<polygon fill="#4cc3d0"  points="1218.2,398.4 1220.7,395.9 1221.2,398.4"/>
<polygon fill="#4cc3d0"  points="1200.7,413.0 1203.2,411.7 1202.7,413.7"/>
<polygon fill="#4cc3d0"  points="1204.4,411.7 1206.2,411.0 1206.2,412.7"/>
<polygon fill="#709c3c"  points="1189.4,436.0 1193.2,432.2 1196.9,434.7 1197.7,441.0 1195.7,448.5 1193.2,452.3 1190.2,448.5 1188.7,442.3"/>
<polygon fill="#709c3c"  points="1191.9,448.5 1196.9,447.3 1201.9,451.0 1208.2,452.3 1206.9,456.0 1190.7,456.0"/>
<polygon fill="#709c3c"  points="1292.0,283.3 1293.3,284.0 1290.3,287.0 1289.3,286.3"/>
<polygon fill="#709c3c"  points="1278.3,309.6 1279.5,310.3 1274.5,315.8 1273.3,315.1"/>
</g>
<clipPath id="cC2x"><rect x="300" y="400" width="300" height="192"/></clipPath>
<g id="tC2x" clip-path="url(#cC2x)">
<polygon fill="#ffffff"  points="298.7,398.7 661.8,398.7 661.8,594.0 298.7,594.0"/>
<polygon fill="#ffc000"  points="298.7,426.3 305.0,427.5 310.0,425.0 313.8,418.8 322.5,416.3 330.0,417.0 327.5,423.8 323.8,428.8 320.0,435.0 325.0,436.3 335.0,435.5 342.6,437.6 341.3,445.1 337.6,450.1 340.1,453.8 346.3,456.3 350.1,460.1 357.6,465.1 363.8,467.6 370.1,466.3 375.1,467.6 380.1,472.6 376.4,471.3 372.6,470.1 367.6,472.6 361.3,471.3 353.8,467.6 347.6,465.6 343.8,460.1 340.1,455.1 335.0,451.3 328.8,448.8 322.5,445.1 315.0,442.6 307.5,438.8 301.3,435.0 298.7,433.8"/>
<polygon fill="#ffc000"  points="337.6,413.8 343.8,410.5 352.6,410.0 362.6,412.5 372.6,416.3 380.1,419.5 382.6,422.0 375.1,422.0 367.6,420.0 360.1,416.3 350.1,413.8 342.6,415.0"/>
<polygon fill="#ffc000"  points="380.1,425.0 386.4,421.3 391.4,423.8 388.9,427.5 382.6,427.0"/>
<polygon fill="#ffc000"  points="363.8,427.0 370.1,426.3 372.6,428.0 366.3,429.3"/>
<polygon fill="#ffc000"  points="402.6,433.8 405.1,431.3 411.4,431.3 416.4,433.8 418.2,437.1 412.7,437.6 407.7,438.1 403.1,439.6"/>
<polygon fill="#ffc000"  points="422.7,436.6 428.9,436.6 430.2,438.3 423.2,438.3"/>
<polygon fill="#ffc000"  points="366.3,403.0 368.1,403.0 368.1,404.8 366.3,404.8"/>
<polygon fill="#ffc000"  points="371.3,402.0 373.1,402.0 373.1,403.8 371.3,403.8"/>
<polygon fill="#ffc000"  points="375.1,405.5 376.9,405.5 376.9,407.3 375.1,407.3"/>
<polygon fill="#ffc000"  points="378.9,408.8 380.6,408.8 380.6,410.5 378.9,410.5"/>
<polygon fill="#ffc000"  points="382.6,412.0 384.4,412.0 384.4,413.8 382.6,413.8"/>
<polygon fill="#ffc000"  points="385.1,415.5 386.9,415.5 386.9,417.3 385.1,417.3"/>
<polygon fill="#ffc000"  points="383.9,418.8 385.6,418.8 385.6,420.5 383.9,420.5"/>
<polygon fill="#ffc000"  points="438.9,437.6 440.7,437.6 440.7,439.3 438.9,439.3"/>
<polygon fill="#ffc000"  points="443.2,440.1 445.0,440.1 445.0,441.8 443.2,441.8"/>
<polygon fill="#ffc000"  points="445.7,446.3 447.5,446.3 447.5,448.1 445.7,448.1"/>
<polygon fill="#ffc000"  points="446.7,453.1 448.5,453.1 448.5,454.8 446.7,454.8"/>
<polygon fill="#ffc000"  points="453.2,453.8 455.0,453.8 455.0,455.6 453.2,455.6"/>
<polygon fill="#ffc000"  points="442.7,460.1 446.5,459.6 446.5,462.1 443.2,462.6"/>
<polygon fill="#f6ca0c"  points="376.4,471.3 380.1,467.6 386.4,462.6 393.9,460.1 400.1,458.1 403.9,457.1 405.1,460.1 402.6,466.3 406.4,463.8 407.7,460.1 415.2,459.6 425.2,461.3 432.7,462.6 440.2,461.3 446.5,462.6 447.7,466.3 452.7,470.1 460.2,475.1 465.2,478.1 475.2,478.9 484.0,481.4 489.0,486.4 492.8,493.9 499.0,497.6 507.8,500.1 517.8,503.9 527.8,505.6 537.8,507.7 546.6,512.7 552.9,516.4 555.9,522.7 552.9,530.2 547.8,536.4 540.3,540.2 539.1,550.2 537.8,560.2 534.1,567.7 529.1,572.7 520.3,574.0 512.8,576.5 505.3,582.8 501.5,590.3 500.3,594.0 411.4,594.0 411.4,585.3 410.2,575.2 410.2,565.2 411.4,560.2 405.1,555.2 396.4,550.2 387.6,545.2 382.6,538.9 377.6,531.4 372.6,525.2 367.6,520.2 362.6,516.4 362.1,510.2 365.1,502.6 371.3,495.1 377.6,488.9 380.1,482.6 378.9,475.1"/>
</g>
<clipPath id="cD2x"><rect x="300" y="592" width="360" height="176"/></clipPath>
<g id="tD2x" clip-path="url(#cD2x)">
<polygon fill="#f6ca0c"  points="411.4,574.7 410.7,586.0 410.2,596.0 409.7,606.0 408.9,616.1 407.2,626.1 406.4,629.8 408.9,634.8 407.7,641.1 408.9,648.6 407.7,656.1 406.4,663.6 408.9,671.1 410.2,678.6 412.7,686.2 416.4,692.4 422.7,698.7 430.2,702.4 438.9,705.7 449.0,706.2 456.5,701.2 461.5,700.4 452.7,698.7 446.5,693.7 440.2,687.4 437.7,682.4 442.7,676.1 445.2,669.9 440.2,666.1 437.7,662.4 444.0,658.6 445.2,651.1 449.0,647.3 444.0,642.3 450.2,639.8 454.0,634.8 462.7,632.3 470.2,629.8 473.2,624.8 470.2,618.6 465.2,614.8 472.7,616.1 480.3,614.8 486.5,609.8 490.3,603.5 497.8,597.3 501.5,591.0 502.8,584.8 507.8,579.8 515.3,574.7"/>
</g>
<clipPath id="cC3x"><rect x="600" y="454" width="360" height="192"/></clipPath>
<g id="tC3x" clip-path="url(#cC3x)">
<polygon fill="#f6ca0c"  points="626.3,452.7 628.8,457.8 635.0,462.8 641.3,469.0 650.1,475.3 658.8,480.3 666.3,482.0 675.1,480.3 685.1,481.0 695.1,479.0 705.1,477.0 711.4,477.8 716.4,481.5 722.7,483.5 730.2,483.5 733.9,486.5 732.7,494.1 730.2,500.3 735.2,506.6 741.4,512.8 745.2,519.1 747.7,526.6 749.7,534.1 746.5,540.4 742.2,546.6 741.4,554.1 745.2,560.4 749.0,567.9 752.2,576.7 754.0,584.2 759.0,592.9 764.0,601.7 765.2,609.2 770.2,613.0 780.3,612.2 790.3,611.2 800.3,609.2 807.8,605.5 815.3,599.2 821.6,592.9 825.3,587.9 826.6,582.9 834.1,579.2 837.8,574.2 836.6,567.9 836.6,562.9 844.1,557.9 852.9,552.9 860.4,547.9 861.6,540.4 861.6,531.6 857.9,525.3 855.4,517.8 856.6,512.8 862.9,506.6 870.4,500.3 877.9,494.1 885.4,489.0 891.7,482.8 897.9,475.3 902.9,467.8 905.9,460.3 904.2,458.5 895.4,461.0 885.4,462.8 877.9,463.5 874.1,459.0 871.6,452.7"/>
<polygon fill="#f6ca0c"  points="872.9,452.7 875.4,456.0 882.9,455.3 884.1,452.7"/>
<polygon fill="#f6ca0c"  points="914.2,456.0 919.2,455.5 919.7,457.3 914.7,457.8"/>
<polygon fill="#f6ca0c"  points="720.2,498.6 723.2,498.1 723.2,501.1 720.7,501.6"/>
<polygon fill="#f6ca0c"  points="896.7,535.4 899.9,540.4 900.4,547.9 897.9,555.4 894.2,564.2 890.4,571.7 886.7,577.9 880.4,581.2 874.1,580.4 869.1,575.4 868.4,569.2 871.6,564.2 872.9,556.6 874.1,550.4 880.4,547.9 887.9,544.1 892.9,539.1"/>
</g>
<clipPath id="cC4x"><rect x="960" y="454" width="360" height="138"/></clipPath>
<g id="tC4x" clip-path="url(#cC4x)">
<polygon fill="#709c3c"  points="1000.1,445.1 1002.6,450.1 1007.6,458.8 1012.6,466.3 1016.3,470.1 1021.3,467.6 1025.1,462.6 1026.3,453.8 1025.8,445.1"/>
<polygon fill="#709c3c"  points="1024.6,465.6 1028.1,464.6 1032.1,468.1 1033.9,473.9 1031.3,478.1 1027.1,478.1 1024.6,473.9"/>
<polygon fill="#709c3c"  points="1095.2,437.6 1096.4,440.1 1100.2,448.8 1102.7,457.6 1102.2,466.3 1106.5,472.6 1111.5,480.1 1116.5,486.4 1121.5,490.6 1125.7,492.1 1124.0,486.4 1120.2,480.1 1115.2,475.1 1110.2,470.1 1107.7,465.6 1105.2,458.8 1107.7,453.8 1112.7,456.3 1119.0,458.8 1125.2,462.6 1130.2,469.6 1136.5,465.6 1144.0,460.1 1147.3,453.8 1145.3,446.3 1140.3,441.3 1135.2,437.6"/>
<polygon fill="#709c3c"  points="1076.4,452.6 1078.2,452.1 1077.7,462.6 1076.2,461.3"/>
<polygon fill="#709c3c"  points="1081.4,471.3 1083.2,472.6 1082.7,475.1"/>
<polygon fill="#709c3c"  points="1089.7,479.6 1096.4,480.1 1104.0,485.1 1112.7,491.4 1120.2,497.6 1127.7,502.6 1134.0,507.7 1136.5,512.7 1132.7,517.7 1126.5,515.2 1120.2,511.4 1112.7,505.1 1105.2,498.9 1098.9,491.4 1092.7,485.1"/>
<polygon fill="#709c3c"  points="1097.7,493.9 1099.2,493.4 1100.7,496.4 1099.4,496.9"/>
<polygon fill="#709c3c"  points="1104.0,500.1 1105.5,499.6 1108.2,503.4 1107.0,504.1"/>
<polygon fill="#709c3c"  points="1132.7,518.9 1140.3,519.7 1150.3,521.4 1160.3,522.7 1170.3,524.7 1177.8,526.4 1177.3,528.2 1167.8,527.7 1157.8,526.4 1147.8,525.2 1137.7,523.2 1132.2,521.4"/>
<polygon fill="#709c3c"  points="1180.3,526.4 1190.3,525.7 1200.3,525.2 1210.4,524.2 1220.4,523.2 1229.1,522.2 1229.1,523.9 1220.4,525.2 1210.4,526.2 1200.3,527.2 1190.3,527.7 1181.6,528.2"/>
<polygon fill="#709c3c"  points="1201.6,532.7 1207.8,529.7 1215.4,527.2 1221.6,526.4 1220.4,528.9 1212.9,531.4 1206.6,533.9"/>
<polygon fill="#709c3c"  points="1186.6,528.9 1192.8,529.7 1194.1,531.9 1187.8,531.4"/>
<polygon fill="#709c3c"  points="1147.8,493.9 1154.0,492.6 1160.3,487.6 1167.8,483.9 1174.0,478.9 1179.1,476.4 1184.1,479.6 1186.6,481.4 1181.6,483.9 1180.3,488.9 1184.1,493.9 1180.3,500.1 1176.6,506.4 1175.3,510.2 1170.3,509.7 1164.0,507.7 1157.8,506.4 1151.5,502.6 1148.3,497.6"/>
<polygon fill="#709c3c"  points="1187.8,502.6 1191.6,496.4 1200.3,495.1 1209.1,493.9 1214.1,494.6 1210.4,497.6 1201.6,498.1 1195.3,500.1 1199.1,503.9 1206.6,501.4 1207.3,505.1 1201.6,507.7 1204.1,513.9 1200.3,516.4 1196.6,510.2 1194.1,512.7 1194.8,517.7 1191.6,517.2 1189.1,510.2 1186.6,507.7"/>
<polygon fill="#709c3c"  points="1222.9,492.6 1226.6,490.6 1228.4,493.9 1225.9,496.4 1227.9,500.1 1224.9,501.4 1222.9,497.6"/>
<polygon fill="#709c3c"  points="1189.1,435.0 1192.8,432.0 1197.8,434.5 1198.3,441.3 1196.6,447.6 1200.3,451.3 1206.6,450.1 1210.4,453.8 1214.1,458.8 1215.4,463.8 1210.4,462.6 1206.6,458.8 1201.6,456.3 1196.6,456.3 1191.6,452.6 1188.3,445.1"/>
<polygon fill="#709c3c"  points="1200.3,457.6 1204.1,460.1 1206.6,465.1 1211.6,466.3 1216.6,465.6 1219.1,471.3 1217.9,476.4 1214.1,478.1 1210.4,475.1 1206.6,472.6 1201.6,475.1 1199.1,472.6 1201.6,468.8 1199.8,462.6"/>
<polygon fill="#709c3c"  points="1180.3,468.8 1185.3,463.8 1190.3,458.1 1191.6,459.6 1186.6,465.6 1181.6,470.6"/>
<polygon fill="#709c3c"  points="1236.6,500.1 1242.9,498.9 1249.2,500.1 1251.7,503.9 1257.9,505.1 1264.2,503.1 1272.9,504.6 1283.0,506.4 1293.0,510.2 1300.5,513.9 1305.5,518.9 1310.5,523.9 1316.7,528.9 1321.8,532.7 1313.0,532.2 1306.7,527.7 1301.7,523.9 1295.5,525.2 1288.0,528.2 1280.4,528.9 1274.2,526.4 1269.2,523.9 1266.7,520.2 1260.4,516.4 1254.2,512.7 1247.9,510.2 1244.1,506.4 1239.1,503.9"/>
<polygon fill="#709c3c"  points="1306.7,515.7 1313.0,516.4 1321.8,515.2 1321.8,518.2 1313.0,518.9 1307.5,517.7"/>
<polygon fill="#709c3c"  points="1215.4,508.2 1221.6,507.7 1221.6,510.2 1215.9,510.7"/>
<polygon fill="#e2b60e"  points="1225.4,507.7 1236.6,507.2 1237.4,509.7 1225.9,510.7"/>
<polygon fill="#709c3c"  points="1249.9,515.7 1252.9,515.7 1252.9,520.7 1249.9,520.7"/>
<polygon fill="#709c3c"  points="1301.7,503.4 1305.5,503.4 1305.5,504.9 1301.7,504.9"/>
<polygon fill="#709c3c"  points="1314.2,501.9 1318.0,502.4 1318.0,503.6 1314.2,503.4"/>
<polygon fill="#709c3c"  points="1155.3,594.0 1157.8,586.5 1160.3,577.7 1165.3,571.5 1175.3,567.7 1185.3,565.2 1192.8,560.2 1197.8,554.0 1204.1,550.2 1210.4,546.5 1217.9,545.2 1221.6,549.0 1226.6,545.2 1231.6,540.2 1240.4,537.7 1250.4,537.7 1259.2,539.7 1255.4,545.2 1254.2,550.2 1260.4,554.0 1267.9,557.7 1272.9,558.2 1276.7,550.2 1280.4,541.4 1283.5,535.2 1286.7,540.2 1290.5,547.7 1295.5,552.7 1299.2,562.7 1305.5,570.2 1310.5,577.7 1316.7,585.3 1321.8,592.8 1321.8,594.0"/>
<polygon fill="#709c3c"  points="1234.1,535.9 1240.4,535.2 1240.9,537.2 1234.9,537.7"/>
</g>
<clipPath id="cD4"><rect x="1078" y="592" width="360" height="176"/></clipPath>
<g id="tD4" clip-path="url(#cD4)">
<polygon fill="#709c3c"  points="1158.1,574.7 1155.6,586.0 1158.1,591.0 1160.6,601.0 1161.9,611.0 1159.4,616.1 1156.1,619.8 1159.4,623.1 1165.6,623.1 1173.1,621.1 1183.1,619.8 1193.2,617.3 1203.2,613.6 1213.2,612.3 1223.2,611.5 1230.7,613.6 1235.7,618.6 1239.5,624.8 1242.0,629.8 1246.2,622.3 1250.2,618.6 1248.7,626.1 1250.7,631.1 1253.2,637.3 1258.3,642.3 1264.5,646.1 1272.0,643.6 1275.8,647.3 1282.0,644.8 1290.8,642.3 1295.8,636.1 1302.1,628.6 1308.3,619.8 1314.6,609.8 1318.8,598.5 1319.6,588.5 1320.8,586.0 1317.1,582.3 1313.3,577.3 1312.1,574.7"/>
<polygon fill="#709c3c"  points="1265.8,656.6 1272.0,658.1 1279.5,657.4 1280.3,661.1 1277.0,666.1 1273.3,669.9 1268.3,671.6 1265.8,667.4 1265.3,661.1"/>
<polygon fill="#709c3c"  points="1390.4,632.3 1393.9,634.1 1395.9,639.8 1398.4,646.1 1403.5,651.1 1409.0,650.6 1406.0,655.6 1401.0,659.9 1395.9,663.6 1390.9,667.4 1387.2,670.6 1385.4,667.4 1388.4,662.4 1385.9,657.4 1390.9,654.1 1393.9,649.9 1392.9,643.6 1390.9,638.6"/>
<polygon fill="#709c3c"  points="1377.2,664.9 1382.2,665.6 1383.9,669.9 1378.4,674.9 1372.2,679.9 1365.9,684.9 1359.6,689.9 1353.4,693.7 1347.1,697.4 1342.9,698.7 1342.1,693.7 1345.9,689.9 1352.1,684.9 1359.6,679.9 1365.9,674.9 1372.2,669.9"/>
<polygon fill="#709c3c"  points="1325.3,717.4 1327.8,716.9 1327.8,719.2 1325.8,719.5"/>
<polygon fill="#709c3c"  points="1330.9,730.0 1332.9,730.0 1332.4,731.7"/>
<polygon fill="#709c3c"  points="1374.7,574.7 1377.2,577.3 1380.9,578.0 1379.7,574.7"/>
</g>
<clipPath id="cC5"><rect x="1320" y="454" width="118" height="138"/></clipPath>
<g id="tC5" clip-path="url(#cC5)">
<polygon fill="#709c3c"  points="1306.8,516.5 1315.5,515.2 1323.5,513.5 1328.0,511.0 1330.0,512.8 1326.8,516.0 1319.2,518.5 1311.8,519.0"/>
<polygon fill="#709c3c"  points="1334.2,514.0 1336.8,516.5 1340.5,521.0 1338.5,521.0 1335.0,517.0"/>
<polygon fill="#709c3c"  points="1343.0,519.5 1347.5,522.0 1346.0,523.0 1342.5,521.0"/>
<polygon fill="#709c3c"  points="1344.2,524.0 1349.2,526.5 1348.0,527.5 1343.5,525.2"/>
<polygon fill="#709c3c"  points="1352.5,522.8 1356.8,525.2 1355.5,526.5 1351.8,524.5"/>
<polygon fill="#709c3c"  points="1356.8,528.5 1361.8,531.0 1360.5,532.0 1356.2,529.8"/>
<polygon fill="#709c3c"  points="1359.2,526.0 1364.2,529.0 1363.0,530.0"/>
<polygon fill="#709c3c"  points="1362.5,532.0 1366.0,534.0 1365.0,535.0"/>
<polygon fill="#709c3c"  points="1325.5,528.0 1328.0,528.5 1327.5,529.5"/>
<polygon fill="#709c3c"  points="1329.2,536.0 1333.0,536.5 1332.5,537.5"/>
<polygon fill="#709c3c"  points="1382.2,548.5 1384.8,549.0 1385.5,552.8 1383.0,552.2"/>
<polygon fill="#709c3c"  points="1385.5,552.8 1388.0,553.5 1388.5,557.0 1386.0,556.0"/>
<polygon fill="#709c3c"  points="1387.5,559.0 1389.2,559.5 1389.0,561.5"/>
<polygon fill="#709c3c"  points="1389.5,563.5 1391.0,564.0 1390.5,567.0"/>
<polygon fill="#709c3c"  points="1369.2,568.5 1371.8,569.0 1376.8,573.5 1380.5,577.8 1378.5,578.5 1373.5,574.5 1369.5,570.5"/>
<polygon fill="#709c3c"  points="1380.0,571.0 1382.5,572.0 1382.0,573.0"/>
<polygon fill="#709c3c"  points="1383.0,574.0 1385.5,575.0 1385.0,576.0"/>
<polygon fill="#709c3c"  points="1424.2,560.2 1428.0,558.5 1431.0,560.2 1430.0,562.8 1425.5,562.8"/>
<polygon fill="#709c3c"  points="1430.5,556.0 1434.2,554.5 1437.5,554.0 1437.5,556.0 1433.0,557.0"/>
<polygon fill="#709c3c"  points="1381.0,533.5 1382.2,534.0 1381.8,534.8"/>
</g>
<clipPath id="cE0"><rect x="300" y="70" width="240" height="60"/></clipPath>
<g id="tE0" clip-path="url(#cE0)">
<polygon fill="#ffffff"  points="299.2,69.2 541.2,69.2 541.2,199.3 299.2,199.3"/>
<polygon fill="#f6ca0c"  points="324.7,119.2 329.2,115.9 335.9,113.1 342.6,110.9 350.1,109.7 355.9,110.1 356.7,113.1 351.7,115.9 348.4,118.4 344.2,120.1 339.2,121.7 334.2,123.7 330.9,123.1 327.5,120.9"/>
<polygon fill="#f6ca0c"  points="334.2,130.9 337.6,126.7 342.6,123.4 348.4,122.1 353.4,123.7 355.9,127.6 357.6,132.6 362.6,130.9 364.3,125.9 366.8,123.4 369.8,124.2 370.1,129.2 373.4,131.8 375.1,134.3 371.8,137.6 366.8,139.3 361.8,140.1 355.1,139.3 348.4,140.9 341.7,140.9 339.2,137.6 340.1,135.1 335.9,134.3"/>
<polygon fill="#f6ca0c"  points="362.6,108.7 365.9,108.1 370.1,110.1 374.3,109.7 378.4,111.7 375.9,114.7 370.9,116.7 366.8,117.1 364.3,114.2 362.6,111.4"/>
<polygon fill="#f6ca0c"  points="370.9,105.9 375.1,104.2 380.9,103.9 383.8,105.9 383.1,109.2 379.3,110.1 375.1,108.7 371.8,108.1"/>
<polygon fill="#f6ca0c"  points="395.5,110.9 398.5,105.9 401.8,102.5 406.8,102.5 410.2,105.9 411.5,110.9 412.2,115.1 409.3,118.4 406.0,120.1 402.6,120.9 400.1,117.6 397.6,114.2"/>
<polygon fill="#f6ca0c"  points="396.0,118.4 399.3,118.1 400.1,120.4 396.8,120.9"/>
<polygon fill="#f6ca0c"  points="411.8,118.4 414.3,114.2 416.8,112.1 419.3,115.1 421.8,119.2 421.5,122.1 416.8,123.1 413.2,122.1"/>
<polygon fill="#f6ca0c"  points="411.0,124.7 416.8,124.2 421.5,125.9 421.0,128.1 415.2,128.4 411.5,127.1"/>
<polygon fill="#f6ca0c"  points="421.5,100.4 424.3,99.2 425.5,101.4 423.5,103.0"/>
<polygon fill="#f6ca0c"  points="385.5,120.1 387.1,117.6 388.5,119.2 387.6,123.4 385.5,124.2"/>
<polygon fill="#f6ca0c"  points="427.7,118.4 429.3,114.2 430.2,109.2 432.7,103.4 436.0,98.4 441.0,94.2 446.9,90.0 449.9,91.7 450.2,96.7 452.7,101.7 454.4,105.9 452.7,110.1 453.5,114.2 451.0,118.4 446.9,120.1 441.9,121.7 436.9,123.7 431.8,123.7 428.5,121.7"/>
<polygon fill="#f6ca0c"  points="454.4,93.4 456.0,89.2 461.1,86.7 468.6,85.4 476.9,83.7 485.3,81.7 493.6,80.3 501.9,80.3 510.3,81.3 518.6,83.4 527.0,86.4 532.8,90.0 535.0,95.0 532.8,98.4 527.0,100.9 520.3,103.4 515.3,105.9 510.3,109.2 503.6,112.6 496.9,115.9 490.3,119.2 483.6,123.1 479.4,126.7 474.4,129.2 468.6,131.8 464.4,134.3 460.2,137.6 459.4,141.8 456.0,144.8 450.2,145.9 445.2,144.8 441.0,141.8 435.2,140.9 430.2,139.3 425.2,138.4 420.2,136.8 416.0,135.4 411.8,135.9 408.5,133.4 406.0,130.4 410.2,129.2 415.2,130.9 420.2,132.6 425.2,134.3 430.2,135.1 433.5,133.4 436.9,130.1 438.5,126.7 441.9,125.1 446.9,123.4 451.0,120.1 453.5,115.1 454.4,105.9 453.2,100.0"/>
<polygon fill="#f6ca0c"  points="408.5,148.4 410.2,144.3 415.2,140.9 420.2,142.6 425.2,145.1 431.8,145.9 438.5,146.8 444.4,148.4 446.9,151.8 445.2,156.0 440.2,158.5 433.5,157.6 426.8,156.0 420.2,154.3 414.3,153.1 410.2,151.8"/>
<polygon fill="#f6ca0c"  points="380.1,130.9 382.6,127.6 386.8,129.2 391.0,128.4 396.0,129.2 400.1,130.9 401.0,134.3 398.5,138.4 396.0,141.8 392.6,144.3 388.5,145.1 385.1,142.6 382.6,138.4 380.1,135.1"/>
<polygon fill="#f6ca0c"  points="396.0,145.1 399.3,143.1 403.1,144.3 404.3,147.6 401.8,150.4 398.1,150.1"/>
<polygon fill="#f6ca0c"  points="541.2,100.9 533.7,101.7 528.6,104.2 522.0,107.6 515.3,110.9 508.6,114.2 507.0,117.6 512.0,118.4 505.3,121.7 496.9,125.9 488.6,127.6 482.8,129.2 480.2,132.6 483.6,135.9 489.4,136.8 493.6,140.1 486.9,141.8 481.9,140.9 479.4,143.4 482.8,146.8 481.9,150.1 486.9,153.4 493.6,155.1 500.3,156.8 507.0,160.1 510.3,165.1 512.0,171.8 511.1,178.5 512.0,186.8 510.3,193.5 508.6,199.3 541.2,199.3"/>
<polygon fill="#f6ca0c"  points="459.4,190.2 462.7,194.3 465.6,199.3 459.4,199.3"/>
<polygon fill="#ffffff"  points="453.5,93.4 452.7,100.0 453.9,105.9 453.0,114.7 450.5,119.7 451.4,120.2 454.0,115.1 454.9,105.9 453.7,100.0 454.5,93.4"/>
</g>
<clipPath id="cE0b"><rect x="460" y="130" width="80" height="68"/></clipPath>
<g id="tE0b" clip-path="url(#cE0b)">
<polygon fill="#ffffff"  points="299.2,69.2 541.2,69.2 541.2,199.3 299.2,199.3"/>
<polygon fill="#f6ca0c"  points="324.7,119.2 329.2,115.9 335.9,113.1 342.6,110.9 350.1,109.7 355.9,110.1 356.7,113.1 351.7,115.9 348.4,118.4 344.2,120.1 339.2,121.7 334.2,123.7 330.9,123.1 327.5,120.9"/>
<polygon fill="#f6ca0c"  points="334.2,130.9 337.6,126.7 342.6,123.4 348.4,122.1 353.4,123.7 355.9,127.6 357.6,132.6 362.6,130.9 364.3,125.9 366.8,123.4 369.8,124.2 370.1,129.2 373.4,131.8 375.1,134.3 371.8,137.6 366.8,139.3 361.8,140.1 355.1,139.3 348.4,140.9 341.7,140.9 339.2,137.6 340.1,135.1 335.9,134.3"/>
<polygon fill="#f6ca0c"  points="362.6,108.7 365.9,108.1 370.1,110.1 374.3,109.7 378.4,111.7 375.9,114.7 370.9,116.7 366.8,117.1 364.3,114.2 362.6,111.4"/>
<polygon fill="#f6ca0c"  points="370.9,105.9 375.1,104.2 380.9,103.9 383.8,105.9 383.1,109.2 379.3,110.1 375.1,108.7 371.8,108.1"/>
<polygon fill="#f6ca0c"  points="395.5,110.9 398.5,105.9 401.8,102.5 406.8,102.5 410.2,105.9 411.5,110.9 412.2,115.1 409.3,118.4 406.0,120.1 402.6,120.9 400.1,117.6 397.6,114.2"/>
<polygon fill="#f6ca0c"  points="396.0,118.4 399.3,118.1 400.1,120.4 396.8,120.9"/>
<polygon fill="#f6ca0c"  points="411.8,118.4 414.3,114.2 416.8,112.1 419.3,115.1 421.8,119.2 421.5,122.1 416.8,123.1 413.2,122.1"/>
<polygon fill="#f6ca0c"  points="411.0,124.7 416.8,124.2 421.5,125.9 421.0,128.1 415.2,128.4 411.5,127.1"/>
<polygon fill="#f6ca0c"  points="421.5,100.4 424.3,99.2 425.5,101.4 423.5,103.0"/>
<polygon fill="#f6ca0c"  points="385.5,120.1 387.1,117.6 388.5,119.2 387.6,123.4 385.5,124.2"/>
<polygon fill="#f6ca0c"  points="427.7,118.4 429.3,114.2 430.2,109.2 432.7,103.4 436.0,98.4 441.0,94.2 446.9,90.0 449.9,91.7 450.2,96.7 452.7,101.7 454.4,105.9 452.7,110.1 453.5,114.2 451.0,118.4 446.9,120.1 441.9,121.7 436.9,123.7 431.8,123.7 428.5,121.7"/>
<polygon fill="#f6ca0c"  points="454.4,93.4 456.0,89.2 461.1,86.7 468.6,85.4 476.9,83.7 485.3,81.7 493.6,80.3 501.9,80.3 510.3,81.3 518.6,83.4 527.0,86.4 532.8,90.0 535.0,95.0 532.8,98.4 527.0,100.9 520.3,103.4 515.3,105.9 510.3,109.2 503.6,112.6 496.9,115.9 490.3,119.2 483.6,123.1 479.4,126.7 474.4,129.2 468.6,131.8 464.4,134.3 460.2,137.6 459.4,141.8 456.0,144.8 450.2,145.9 445.2,144.8 441.0,141.8 435.2,140.9 430.2,139.3 425.2,138.4 420.2,136.8 416.0,135.4 411.8,135.9 408.5,133.4 406.0,130.4 410.2,129.2 415.2,130.9 420.2,132.6 425.2,134.3 430.2,135.1 433.5,133.4 436.9,130.1 438.5,126.7 441.9,125.1 446.9,123.4 451.0,120.1 453.5,115.1 454.4,105.9 453.2,100.0"/>
<polygon fill="#f6ca0c"  points="408.5,148.4 410.2,144.3 415.2,140.9 420.2,142.6 425.2,145.1 431.8,145.9 438.5,146.8 444.4,148.4 446.9,151.8 445.2,156.0 440.2,158.5 433.5,157.6 426.8,156.0 420.2,154.3 414.3,153.1 410.2,151.8"/>
<polygon fill="#f6ca0c"  points="380.1,130.9 382.6,127.6 386.8,129.2 391.0,128.4 396.0,129.2 400.1,130.9 401.0,134.3 398.5,138.4 396.0,141.8 392.6,144.3 388.5,145.1 385.1,142.6 382.6,138.4 380.1,135.1"/>
<polygon fill="#f6ca0c"  points="396.0,145.1 399.3,143.1 403.1,144.3 404.3,147.6 401.8,150.4 398.1,150.1"/>
<polygon fill="#f6ca0c"  points="541.2,100.9 533.7,101.7 528.6,104.2 522.0,107.6 515.3,110.9 508.6,114.2 507.0,117.6 512.0,118.4 505.3,121.7 496.9,125.9 488.6,127.6 482.8,129.2 480.2,132.6 483.6,135.9 489.4,136.8 493.6,140.1 486.9,141.8 481.9,140.9 479.4,143.4 482.8,146.8 481.9,150.1 486.9,153.4 493.6,155.1 500.3,156.8 507.0,160.1 510.3,165.1 512.0,171.8 511.1,178.5 512.0,186.8 510.3,193.5 508.6,199.3 541.2,199.3"/>
<polygon fill="#f6ca0c"  points="459.4,190.2 462.7,194.3 465.6,199.3 459.4,199.3"/>
<polygon fill="#ffffff"  points="453.5,93.4 452.7,100.0 453.9,105.9 453.0,114.7 450.5,119.7 451.4,120.2 454.0,115.1 454.9,105.9 453.7,100.0 454.5,93.4"/>
</g>
<clipPath id="cE1"><rect x="280" y="130" width="180" height="96"/></clipPath>
<g id="tE1" clip-path="url(#cE1)">
<polygon fill="#ffffff"  points="279.4,129.4 460.9,129.4 460.9,227.0 279.4,227.0"/>
<polygon fill="#f6ca0c"  points="288.8,152.5 293.8,148.8 300.0,143.8 306.3,139.4 306.9,135.6 317.6,135.0 325.1,138.8 328.8,143.8 329.4,147.5 325.1,148.8 317.6,150.0 311.3,152.5 306.3,156.3 301.3,159.0 291.3,159.4 290.0,155.7"/>
<polygon fill="#f6ca0c"  points="305.7,158.2 311.3,153.8 318.8,150.7 325.1,149.4 331.3,148.8 332.6,151.9 337.6,155.0 341.3,156.9 342.6,155.0 343.8,161.3 342.0,166.3 345.1,163.8 348.2,158.2 351.3,153.8 356.4,151.0 361.4,151.3 363.2,153.8 360.1,156.9 356.4,159.4 353.9,163.8 352.0,168.8 350.1,172.6 352.0,176.3 355.1,180.1 355.1,183.8 352.6,186.3 348.2,185.1 345.7,187.6 341.3,188.2 336.3,186.3 332.6,185.1 327.6,187.0 322.6,187.6 316.3,187.0 310.0,186.3 306.9,182.6 303.2,180.1 302.3,175.7 303.8,172.6 310.0,171.9 317.6,173.2 321.9,173.8 320.1,170.7 313.8,168.8 306.9,167.6 304.4,165.7 305.7,163.2 312.5,162.5 306.3,160.7"/>
<polygon fill="#f6ca0c"  points="279.4,171.9 283.8,171.3 288.8,173.2 291.3,176.9 296.3,179.4 301.9,181.3 305.0,183.2 306.9,185.7 302.5,188.2 300.7,190.1 305.0,191.6 311.3,192.6 317.6,192.0 321.3,192.6 321.9,197.6 323.2,202.0 324.4,196.3 323.8,191.3 327.6,189.8 333.8,188.8 336.3,190.1 338.2,193.8 341.3,196.3 346.3,198.8 351.3,198.2 355.1,196.3 358.2,193.8 355.7,191.3 358.9,189.5 363.2,187.0 366.4,186.3 368.9,188.8 369.5,192.6 367.6,195.7 363.9,198.8 362.0,202.6 365.1,201.3 368.9,198.2 372.6,195.1 375.1,192.0 378.9,190.1 382.6,189.8 385.1,191.3 386.4,195.1 384.9,198.2 387.6,196.3 390.2,193.8 392.7,197.6 392.0,202.0 390.2,205.1 391.4,207.6 394.5,205.1 395.8,202.0 400.2,200.1 403.3,196.3 405.2,192.6 405.2,190.1 400.2,188.8 396.4,186.3 395.2,181.9 395.8,177.6 398.9,172.6 403.3,167.6 408.9,163.8 415.2,161.9 421.4,162.3 427.7,165.0 434.0,164.8 436.5,166.3 441.5,165.7 445.2,167.6 447.1,172.6 446.5,176.3 449.0,180.1 454.0,183.8 457.7,187.6 460.9,191.3 460.9,227.0 416.4,227.0 418.9,223.9 423.9,225.1 430.2,222.6 435.2,218.9 439.6,215.1 440.8,210.1 437.7,205.1 434.0,201.3 430.2,197.6 429.6,193.8 426.5,191.3 421.4,193.8 417.7,192.6 417.1,197.6 415.2,202.0 411.4,204.5 410.8,208.9 407.7,212.0 403.3,213.9 398.9,215.1 396.4,217.6 400.2,218.2 397.7,220.1 395.2,217.6 391.4,216.4 387.6,219.5 384.5,223.3 382.6,227.0 279.4,227.0"/>
<polygon fill="#ffffff"  points="422.7,162.3 416.4,166.6 412.1,173.6 411.2,180.1 412.7,185.1 413.4,184.8 412.1,180.1 412.9,173.8 417.2,167.3 423.2,163.3"/>
<polygon fill="#f6ca0c"  points="425.2,208.2 429.0,205.7 433.3,206.4 432.7,209.5 428.3,212.0 425.8,210.7"/>
<polygon fill="#f6ca0c"  points="333.8,130.6 338.8,129.4 372.6,129.4 374.5,132.5 372.6,135.6 367.6,138.8 361.4,140.6 355.1,140.0 347.6,141.3 341.3,140.6 339.5,137.5 342.6,135.6 336.3,134.4"/>
<polygon fill="#f6ca0c"  points="380.1,129.4 400.2,129.4 400.8,133.8 397.7,137.5 393.9,141.3 390.2,145.0 386.4,145.0 383.9,141.9 384.5,138.8 381.4,136.3 379.5,133.1"/>
<polygon fill="#f6ca0c"  points="395.2,144.4 398.9,142.5 403.3,143.1 404.5,146.9 402.0,150.0 397.7,150.7 395.2,148.2"/>
<polygon fill="#f6ca0c"  points="408.3,150.7 410.2,146.3 415.2,142.5 420.2,144.4 425.2,146.3 432.7,146.9 440.2,148.2 445.2,150.7 446.5,154.4 442.7,158.2 436.5,159.4 430.2,158.2 423.9,156.9 417.7,155.7 411.4,154.4"/>
<polygon fill="#f6ca0c"  points="405.2,129.4 406.4,133.8 410.2,136.9 414.6,136.3 415.8,139.4 420.2,140.6 426.5,139.4 434.0,140.6 441.5,143.1 447.7,145.6 454.0,145.0 459.0,141.9 460.9,140.6 460.9,129.4"/>
<polygon fill="#f6ca0c"  points="373.9,138.1 375.8,138.8 374.5,140.6 372.6,140.0"/>
<polygon fill="#f6ca0c"  points="363.2,160.7 366.4,159.4 370.1,163.2 372.6,158.8 375.1,154.4 380.1,153.8 386.4,153.8 385.8,156.9 382.6,160.0 383.9,163.8 381.4,168.2 377.6,171.3 373.9,173.2 369.5,174.4 367.6,170.7 366.4,166.3 363.9,163.8"/>
<polygon fill="#f6ca0c"  points="387.0,159.4 390.2,156.3 395.2,155.0 401.4,155.7 407.1,158.2 403.3,161.9 398.9,164.4 394.5,166.9 390.8,167.6 387.6,170.7 384.5,171.3 386.4,166.3 387.6,162.5"/>
<polygon fill="#f6ca0c"  points="370.8,185.1 372.6,180.1 376.4,175.1 381.4,172.6 385.8,173.8 387.0,178.8 386.4,183.8 383.9,187.6 378.9,189.5 373.9,188.8"/>
<polygon fill="#f6ca0c"  points="358.9,178.2 360.7,177.6 360.7,179.4 359.1,179.8"/>
</g>
<clipPath id="cE2"><rect x="320" y="226" width="180" height="96"/></clipPath>
<g id="tE2" clip-path="url(#cE2)">
<polygon fill="#f6ca0c"  points="319.4,225.4 500.9,225.4 500.9,323.0 319.4,323.0"/>
<polygon fill="#ffffff"  points="342.5,255.4 343.2,251.0 346.3,246.7 351.3,242.3 356.3,238.5 361.3,234.8 365.1,231.6 370.1,229.8 375.1,227.9 380.1,226.6 382.6,225.4 407.6,225.4 409.5,229.8 407.6,233.5 408.2,238.5 407.6,242.3 406.4,246.7 405.7,251.0 406.4,255.4 402.6,257.9 399.5,261.0 400.1,264.8 402.6,269.2 402.0,274.2 398.9,277.3 393.9,279.2 388.8,280.5 387.6,284.8 387.0,289.8 385.7,294.2 383.2,297.3 380.7,296.1 378.8,292.3 377.0,288.6 378.8,284.2 380.1,279.8 378.8,277.9 373.8,277.3 368.8,275.4 363.8,272.3 360.1,269.2 355.0,266.7 350.0,265.4 346.3,266.1 346.9,262.3 346.3,258.5 345.7,256.7"/>
<polygon fill="#f6ca0c"  points="382.6,229.8 386.3,226.6 392.6,225.4 400.1,225.4 401.4,229.8 403.9,231.6 400.1,232.9 395.1,232.3 390.1,232.9 385.1,234.1 383.2,232.3"/>
<polygon fill="#f6ca0c"  points="388.2,238.5 392.0,236.6 396.4,236.6 395.1,238.5 390.7,240.4"/>
<polygon fill="#f6ca0c"  points="400.1,241.6 402.0,239.5 404.5,240.0 403.2,242.9 400.7,244.5"/>
<polygon fill="#f6ca0c"  points="388.6,272.9 391.3,271.7 394.5,272.6 393.2,274.6 389.5,275.1"/>
<polygon fill="#f6ca0c"  points="377.6,288.0 380.7,287.3 380.1,289.8 377.8,290.1"/>
<polygon fill="#ffffff"  points="407.6,225.4 409.5,229.8 407.6,233.5 408.2,238.5 410.1,240.4 415.1,239.8 420.1,240.4 423.9,241.0 427.6,243.5 430.8,247.3 433.3,251.0 435.8,252.9 434.5,257.3 435.2,261.7 438.3,264.8 442.0,265.4 445.2,262.9 447.7,259.8 450.2,256.7 452.7,254.8 454.6,258.5 455.8,263.6 457.1,268.6 458.9,273.6 458.3,276.1 461.4,279.2 465.2,281.7 470.2,284.2 474.0,287.3 475.8,291.1 475.2,295.5 476.5,298.0 474.6,299.9 477.7,301.1 480.2,304.9 482.7,309.2 483.4,313.6 482.7,318.6 481.5,323.0 500.9,323.0 500.9,225.4 470.8,225.4 469.0,228.5 465.2,231.0 461.4,228.5 460.8,225.4 453.9,225.4 455.8,229.1 457.7,232.9 459.2,237.3 458.3,241.6 456.4,244.8 453.9,247.9 449.6,246.0 443.9,244.8 438.9,242.9 435.2,240.4 432.7,236.0 429.5,231.6 425.1,229.8 420.1,229.8 415.1,230.4 412.6,228.5 413.9,225.4"/>
<polygon fill="#ffffff"  points="442.2,237.0 443.2,236.3 446.7,239.3 451.2,243.1 453.7,246.3 452.9,247.0 450.4,244.0 445.9,240.3"/>
<polygon fill="#f6ca0c"  points="409.5,234.8 412.0,233.8 413.6,235.0 411.4,236.6"/>
<polygon fill="#f6ca0c"  points="414.5,234.1 417.0,233.5 417.4,235.0 415.1,235.4"/>
<polygon fill="#f6ca0c"  points="452.1,247.9 454.6,247.3 454.9,249.8 452.7,250.4"/>
<polygon fill="#f6ca0c"  points="438.9,254.2 441.4,253.3 442.0,255.0 439.5,255.8"/>
<polygon fill="#ffffff"  points="413.3,318.6 417.6,314.2 422.6,311.4 427.6,309.4 432.7,307.4 437.7,306.4 442.7,306.1 448.9,306.1 455.2,305.5 461.4,304.2 466.5,302.4 470.2,300.9 474.6,299.6 475.2,300.5 471.5,301.7 467.7,304.9 463.9,308.6 460.2,312.4 457.1,315.5 458.9,318.0 458.3,323.0 436.4,323.0 437.0,319.3 437.7,315.5 436.4,313.0 432.7,312.4 427.6,313.6 422.6,315.9 417.6,318.0 415.1,319.6"/>
<polygon fill="#f6ca0c"  points="438.9,307.4 443.9,308.0 448.9,309.9 447.7,311.1 442.7,310.1 438.9,308.9"/>
</g>
<clipPath id="cE3"><rect x="0" y="170" width="240" height="128"/></clipPath>
<g id="tE3" clip-path="url(#cE3)">
<polygon fill="#ffffff"  points="-0.8,169.2 241.2,169.2 241.2,299.3 -0.8,299.3"/>
<polygon fill="#f6ca0c"  points="108.5,169.2 110.2,173.3 108.5,176.7 113.5,178.3 120.2,179.2 126.8,177.5 130.2,178.3 127.7,183.4 123.5,186.7 116.8,187.5 111.8,186.7 106.8,187.5 103.5,190.9 98.5,194.2 93.5,197.5 92.6,201.7 95.1,204.2 92.6,205.9 92.6,210.1 96.8,211.7 100.1,215.1 97.6,219.2 101.8,220.9 106.8,223.1 111.8,222.6 110.2,225.1 106.8,228.4 101.8,231.8 96.8,234.3 91.8,236.8 86.8,239.3 81.8,240.9 76.8,242.6 71.8,243.8 67.6,245.4 68.4,246.4 73.4,245.1 78.4,244.3 85.1,243.1 90.1,240.9 95.1,238.4 100.1,236.8 105.1,235.1 110.2,232.6 115.2,230.1 120.2,227.6 125.2,225.9 127.7,222.6 131.8,220.1 136.9,216.7 141.9,214.2 146.9,211.7 150.2,210.9 148.5,214.2 141.9,217.6 136.9,220.1 134.4,224.2 140.2,222.6 146.9,220.1 152.7,218.4 155.2,215.1 159.4,215.9 162.7,219.2 166.9,222.6 173.6,225.1 178.6,227.6 182.8,230.9 186.1,235.9 188.6,240.1 187.8,245.1 190.3,250.1 189.4,256.8 191.9,261.8 194.4,268.5 196.1,273.5 198.6,278.5 200.3,285.2 205.3,290.2 208.6,294.3 211.1,299.3 241.2,299.3 241.2,169.2"/>
<polygon fill="#f6ca0c"  points="82.9,178.3 86.8,177.5 90.1,180.8 92.1,183.7 89.3,184.7 86.8,182.0 83.4,180.3"/>
<polygon fill="#f6ca0c"  points="82.1,207.1 86.8,206.4 88.1,208.4 84.3,209.4"/>
<polygon fill="#f6ca0c"  points="115.2,233.4 120.2,230.9 126.8,228.1 129.3,228.4 127.7,230.9 122.7,234.3 116.8,236.4"/>
<polygon fill="#f6ca0c"  points="46.7,253.1 50.1,250.9 52.1,251.4 49.2,253.4"/>
<polygon fill="#f6ca0c"  points="53.4,251.4 56.7,249.3 60.1,248.4 59.2,250.1 55.9,251.8"/>
<polygon fill="#f6ca0c"  points="6.7,255.5 13.4,256.0 13.4,256.8 6.7,256.5"/>
<polygon fill="#f6ca0c"  points="20.0,256.0 25.0,255.1 25.0,256.1 20.4,256.8"/>
<polygon fill="#f6ca0c"  points="29.2,255.1 31.7,254.8 31.7,255.6 29.4,255.8"/>
<polygon fill="#f6ca0c"  points="37.6,254.3 43.4,253.1 43.7,253.9 38.1,255.0"/>
<polygon fill="#f6ca0c"  points="185.3,266.0 187.8,264.3 190.3,266.8 189.4,271.8 187.8,276.8 185.6,272.6"/>
<polygon fill="#f6ca0c"  points="195.3,285.2 198.6,286.8 202.8,291.0 206.1,296.8 207.8,299.3 202.8,299.3 199.4,294.3 196.1,289.3"/>
</g>
<clipPath id="cE4"><rect x="700" y="190" width="180" height="96"/></clipPath>
<g id="tE4" clip-path="url(#cE4)">
<polygon fill="#ffffff"  points="699.4,189.4 880.9,189.4 880.9,287.0 699.4,287.0"/>
<polygon fill="#f6ca0c"  points="711.9,287.0 710.6,282.6 708.8,277.6 707.5,271.4 708.1,265.1 710.0,260.1 713.8,256.3 718.8,252.6 723.8,248.8 727.5,245.1 731.3,240.1 733.8,235.1 737.6,230.1 741.3,226.3 746.3,222.5 750.1,218.8 755.1,215.0 760.1,211.9 765.1,208.8 770.1,205.6 775.1,203.5 781.4,203.1 787.6,205.0 792.0,207.5 791.4,211.3 790.1,215.0 791.4,218.2 788.2,221.3 787.0,225.7 789.5,229.4 792.6,233.2 793.9,238.8 795.8,243.8 796.4,248.8 798.9,253.8 802.0,258.2 802.6,262.0 800.1,265.1 798.3,268.2 796.4,271.4 792.6,273.2 787.6,274.1 781.4,274.9 776.4,275.4 772.6,275.1 769.5,273.2 767.6,270.1 766.3,265.1 765.7,260.1 767.6,256.3 772.0,252.6 776.4,248.8 777.0,246.3 773.2,243.8 771.3,240.1 770.1,236.9 767.0,236.1 764.5,238.2 763.8,241.9 765.1,245.1 762.0,247.6 758.8,250.1 755.1,252.6 752.6,255.7 752.3,260.1 753.8,263.9 757.0,266.4 757.6,270.1 755.1,273.2 753.2,276.4 755.1,279.5 758.2,280.1 759.5,283.3 758.8,287.0"/>
<polygon fill="#f6ca0c"  points="768.2,287.0 768.8,282.0 772.6,279.1 777.6,277.6 782.6,278.2 787.6,277.6 792.6,277.0 793.9,280.1 793.6,287.0"/>
<polyline fill="none" stroke="#ffffff" stroke-width="0.62" points="731.0,239.9 737.1,243.3"/>
<polyline fill="none" stroke="#ffffff" stroke-width="0.62" points="731.4,239.0 739.3,244.3"/>
<polyline fill="none" stroke="#ffffff" stroke-width="0.62" points="731.8,238.3 735.6,242.2"/>
<polyline fill="none" stroke="#ffffff" stroke-width="0.62" points="732.2,237.5 736.2,243.2"/>
<polyline fill="none" stroke="#ffffff" stroke-width="0.62" points="732.5,236.8 742.6,241.5"/>
<polyline fill="none" stroke="#ffffff" stroke-width="0.62" points="733.0,235.8 738.3,239.4"/>
<polyline fill="none" stroke="#ffffff" stroke-width="0.62" points="733.7,234.6 739.4,241.6"/>
<polyline fill="none" stroke="#ffffff" stroke-width="0.62" points="734.4,233.7 738.0,238.3"/>
<polyline fill="none" stroke="#ffffff" stroke-width="0.62" points="734.9,233.1 742.2,234.4"/>
<polyline fill="none" stroke="#ffffff" stroke-width="0.62" points="735.7,231.9 741.3,238.5"/>
<polyline fill="none" stroke="#ffffff" stroke-width="0.62" points="736.5,230.9 741.5,239.9"/>
<polyline fill="none" stroke="#ffffff" stroke-width="0.62" points="736.9,230.2 746.0,236.3"/>
<polyline fill="none" stroke="#ffffff" stroke-width="0.62" points="737.7,229.4 748.4,233.6"/>
<polyline fill="none" stroke="#ffffff" stroke-width="0.62" points="738.5,228.6 740.7,235.1"/>
<polyline fill="none" stroke="#ffffff" stroke-width="0.62" points="739.0,228.1 747.1,233.4"/>
<polyline fill="none" stroke="#ffffff" stroke-width="0.62" points="739.7,227.3 746.2,232.1"/>
<polyline fill="none" stroke="#ffffff" stroke-width="0.62" points="740.6,226.5 744.1,235.2"/>
<polyline fill="none" stroke="#ffffff" stroke-width="0.62" points="741.5,225.7 744.8,237.0"/>
<polyline fill="none" stroke="#ffffff" stroke-width="0.62" points="742.3,225.1 750.6,230.7"/>
<polyline fill="none" stroke="#ffffff" stroke-width="0.62" points="743.5,224.2 746.4,235.9"/>
<polyline fill="none" stroke="#ffffff" stroke-width="0.62" points="744.1,223.7 752.4,229.9"/>
<polyline fill="none" stroke="#ffffff" stroke-width="0.62" points="745.1,223.0 752.2,229.1"/>
<polyline fill="none" stroke="#ffffff" stroke-width="0.62" points="745.9,222.4 747.7,233.5"/>
<polyline fill="none" stroke="#ffffff" stroke-width="0.62" points="746.3,222.0 754.6,229.0"/>
<polyline fill="none" stroke="#ffffff" stroke-width="0.62" points="746.9,221.4 750.6,227.8"/>
<polyline fill="none" stroke="#ffffff" stroke-width="0.62" points="747.8,220.6 751.3,225.0"/>
<polyline fill="none" stroke="#ffffff" stroke-width="0.62" points="748.2,220.1 756.6,226.1"/>
<polyline fill="none" stroke="#ffffff" stroke-width="0.62" points="749.1,219.2 757.7,227.8"/>
<polyline fill="none" stroke="#ffffff" stroke-width="0.62" points="750.0,218.4 756.6,222.0"/>
<polyline fill="none" stroke="#ffffff" stroke-width="0.62" points="750.9,217.7 755.4,221.0"/>
<polyline fill="none" stroke="#ffffff" stroke-width="0.62" points="751.6,217.2 759.6,222.5"/>
<polyline fill="none" stroke="#ffffff" stroke-width="0.62" points="752.2,216.7 760.6,224.4"/>
<polyline fill="none" stroke="#ffffff" stroke-width="0.62" points="753.3,215.9 761.3,224.2"/>
<polyline fill="none" stroke="#ffffff" stroke-width="0.62" points="754.1,215.3 758.4,223.1"/>
<polyline fill="none" stroke="#ffffff" stroke-width="0.62" points="755.0,214.6 758.9,223.0"/>
<polyline fill="none" stroke="#ffffff" stroke-width="0.62" points="756.0,214.0 761.2,221.2"/>
<polyline fill="none" stroke="#ffffff" stroke-width="0.62" points="757.0,213.4 761.8,218.5"/>
<polyline fill="none" stroke="#ffffff" stroke-width="0.62" points="758.1,212.7 762.5,220.5"/>
<polyline fill="none" stroke="#ffffff" stroke-width="0.62" points="758.7,212.3 762.5,219.6"/>
<polyline fill="none" stroke="#ffffff" stroke-width="0.62" points="759.4,211.9 763.3,220.7"/>
<polyline fill="none" stroke="#ffffff" stroke-width="0.62" points="759.9,211.6 765.3,219.6"/>
<polyline fill="none" stroke="#ffffff" stroke-width="0.62" points="760.9,210.9 763.6,218.3"/>
<polyline fill="none" stroke="#ffffff" stroke-width="0.62" points="761.7,210.5 766.4,213.5"/>
<polyline fill="none" stroke="#ffffff" stroke-width="0.62" points="762.7,209.8 771.4,218.1"/>
<polyline fill="none" stroke="#ffffff" stroke-width="0.62" points="763.6,209.3 769.9,216.3"/>
<polyline fill="none" stroke="#ffffff" stroke-width="0.62" points="764.4,208.8 769.1,214.6"/>
<polyline fill="none" stroke="#ffffff" stroke-width="0.62" points="765.3,208.2 769.9,214.0"/>
<polyline fill="none" stroke="#ffffff" stroke-width="0.62" points="766.3,207.6 768.9,212.5"/>
<polyline fill="none" stroke="#ffffff" stroke-width="0.62" points="767.2,207.1 772.7,212.1"/>
<polyline fill="none" stroke="#ffffff" stroke-width="0.62" points="768.2,206.4 773.5,211.0"/>
<polyline fill="none" stroke="#ffffff" stroke-width="0.62" points="769.0,206.0 777.3,211.8"/>
<polyline fill="none" stroke="#ffffff" stroke-width="0.62" points="769.9,205.3 771.7,212.8"/>
<polyline fill="none" stroke="#ffffff" stroke-width="0.62" points="770.7,205.0 778.2,213.4"/>
<polyline fill="none" stroke="#ffffff" stroke-width="0.62" points="771.7,204.6 771.9,214.4"/>
<polyline fill="none" stroke="#ffffff" stroke-width="0.62" points="772.4,204.3 777.2,209.2"/>
<polyline fill="none" stroke="#ffffff" stroke-width="0.62" points="773.5,203.8 774.2,210.5"/>
<polyline fill="none" stroke="#ffffff" stroke-width="0.62" points="774.5,203.4 778.3,208.8"/>
<polyline fill="none" stroke="#ffffff" stroke-width="0.62" points="775.9,203.1 773.5,212.6"/>
<polyline fill="none" stroke="#ffffff" stroke-width="0.62" points="776.6,203.1 778.3,209.1"/>
<polyline fill="none" stroke="#ffffff" stroke-width="0.62" points="777.8,203.0 779.4,210.1"/>
<polyline fill="none" stroke="#ffffff" stroke-width="0.62" points="778.8,202.9 780.0,211.1"/>
<polyline fill="none" stroke="#ffffff" stroke-width="0.62" points="779.9,202.9 783.3,208.4"/>
<polyline fill="none" stroke="#ffffff" stroke-width="0.62" points="781.6,202.9 773.6,211.0"/>
<polyline fill="none" stroke="#ffffff" stroke-width="0.62" points="782.5,203.1 774.7,212.1"/>
<polyline fill="none" stroke="#ffffff" stroke-width="0.62" points="783.3,203.4 777.1,211.9"/>
<polyline fill="none" stroke="#ffffff" stroke-width="0.62" points="784.2,203.6 783.5,212.5"/>
<polyline fill="none" stroke="#ffffff" stroke-width="0.62" points="785.0,203.9 785.9,210.7"/>
<polyline fill="none" stroke="#ffffff" stroke-width="0.62" points="786.2,204.2 782.1,210.3"/>
<polyline fill="none" stroke="#ffffff" stroke-width="0.62" points="786.9,204.4 781.5,214.7"/>
<polyline fill="none" stroke="#ffffff" stroke-width="0.62" points="788.2,205.0 779.0,212.0"/>
<polyline fill="none" stroke="#ffffff" stroke-width="0.62" points="789.1,205.4 785.3,209.4"/>
<polyline fill="none" stroke="#ffffff" stroke-width="0.62" points="789.7,205.8 785.0,211.6"/>
<polyline fill="none" stroke="#ffffff" stroke-width="0.62" points="790.7,206.4 784.0,211.1"/>
<polyline fill="none" stroke="#ffffff" stroke-width="0.62" points="791.4,206.8 789.3,214.2"/>
<polyline fill="none" stroke="#ffffff" stroke-width="0.5" points="711.5,287.0 717.5,286.8"/>
<polyline fill="none" stroke="#ffffff" stroke-width="0.5" points="711.1,285.6 718.7,285.3"/>
<polyline fill="none" stroke="#ffffff" stroke-width="0.5" points="710.7,284.2 713.6,283.3"/>
<polyline fill="none" stroke="#ffffff" stroke-width="0.5" points="710.2,282.5 716.4,282.8"/>
<polyline fill="none" stroke="#ffffff" stroke-width="0.5" points="710.0,281.9 714.2,278.9"/>
<polyline fill="none" stroke="#ffffff" stroke-width="0.5" points="709.6,280.7 713.4,276.4"/>
<polyline fill="none" stroke="#ffffff" stroke-width="0.5" points="709.1,279.5 713.4,279.7"/>
<polyline fill="none" stroke="#ffffff" stroke-width="0.5" points="708.6,278.2 712.2,277.9"/>
<polyline fill="none" stroke="#ffffff" stroke-width="0.5" points="708.4,277.4 713.4,274.2"/>
<polyline fill="none" stroke="#ffffff" stroke-width="0.5" points="708.2,276.5 714.6,273.1"/>
<polyline fill="none" stroke="#ffffff" stroke-width="0.5" points="707.9,275.2 715.6,276.6"/>
<polyline fill="none" stroke="#ffffff" stroke-width="0.5" points="707.7,274.3 715.3,273.1"/>
<polyline fill="none" stroke="#ffffff" stroke-width="0.5" points="707.4,272.8 711.2,273.7"/>
<polyline fill="none" stroke="#ffffff" stroke-width="0.5" points="707.2,271.4 714.7,272.9"/>
<polyline fill="none" stroke="#ffffff" stroke-width="0.5" points="707.2,270.5 711.8,269.4"/>
<polyline fill="none" stroke="#ffffff" stroke-width="0.5" points="707.3,269.5 710.5,269.2"/>
<polyline fill="none" stroke="#ffffff" stroke-width="0.5" points="707.5,268.0 710.3,268.8"/>
<polyline fill="none" stroke="#ffffff" stroke-width="0.5" points="707.6,266.8 711.7,268.6"/>
<polyline fill="none" stroke="#ffffff" stroke-width="0.5" points="707.7,265.7 712.1,266.1"/>
<polyline fill="none" stroke="#ffffff" stroke-width="0.5" points="708.1,264.1 710.3,266.5"/>
<polyline fill="none" stroke="#ffffff" stroke-width="0.5" points="708.4,263.3 713.5,267.6"/>
<polyline fill="none" stroke="#ffffff" stroke-width="0.5" points="708.7,262.7 715.3,264.2"/>
<polyline fill="none" stroke="#ffffff" stroke-width="0.5" points="709.1,261.5 712.0,261.3"/>
<polyline fill="none" stroke="#ffffff" stroke-width="0.5" points="709.5,260.5 717.1,261.0"/>
<polyline fill="none" stroke="#ffffff" stroke-width="0.5" points="710.6,259.1 713.1,266.2"/>
<polyline fill="none" stroke="#ffffff" stroke-width="0.5" points="711.2,258.4 714.4,261.7"/>
<polyline fill="none" stroke="#ffffff" stroke-width="0.5" points="712.3,257.3 714.1,260.2"/>
<polyline fill="none" stroke="#ffffff" stroke-width="0.5" points="713.2,256.4 720.0,258.7"/>
<polyline fill="none" stroke="#ffffff" stroke-width="0.5" points="714.5,255.3 716.9,257.6"/>
<polyline fill="none" stroke="#ffffff" stroke-width="0.5" points="715.6,254.5 721.0,259.7"/>
<polyline fill="none" stroke="#ffffff" stroke-width="0.5" points="716.8,253.6 721.0,257.4"/>
<polyline fill="none" stroke="#ffffff" stroke-width="0.5" points="717.7,253.0 721.0,254.8"/>
<polyline fill="none" stroke="#ffffff" stroke-width="0.5" points="718.8,252.2 719.7,258.5"/>
<polyline fill="none" stroke="#ffffff" stroke-width="0.5" points="719.5,251.6 720.0,254.7"/>
<polyline fill="none" stroke="#ffffff" stroke-width="0.5" points="720.3,251.0 724.2,254.0"/>
<polyline fill="none" stroke="#ffffff" stroke-width="0.5" points="721.4,250.1 725.9,255.5"/>
<polyline fill="none" stroke="#ffffff" stroke-width="0.5" points="722.6,249.3 723.3,252.4"/>
<polyline fill="none" stroke="#ffffff" stroke-width="0.5" points="723.2,248.8 724.9,253.9"/>
<polyline fill="none" stroke="#ffffff" stroke-width="0.5" points="724.0,248.2 726.1,254.3"/>
<polyline fill="none" stroke="#ffffff" stroke-width="0.5" points="724.7,247.4 731.0,250.0"/>
<polyline fill="none" stroke="#ffffff" stroke-width="0.5" points="725.7,246.4 727.3,249.7"/>
<polyline fill="none" stroke="#ffffff" stroke-width="0.5" points="726.6,245.6 728.0,250.5"/>
<polyline fill="none" stroke="#ffffff" stroke-width="0.5" points="727.4,244.6 733.8,249.0"/>
<polyline fill="none" stroke="#ffffff" stroke-width="0.5" points="728.2,243.6 733.5,247.4"/>
<polyline fill="none" stroke="#ffffff" stroke-width="0.5" points="728.8,242.9 733.5,244.3"/>
<polyline fill="none" stroke="#ffffff" stroke-width="0.5" points="729.6,241.7 733.2,248.7"/>
<polyline fill="none" stroke="#ffffff" stroke-width="0.5" points="730.3,240.8 735.1,243.3"/>
<polyline fill="none" stroke="#ffffff" stroke-width="0.5" points="731.0,239.9 733.5,243.3"/>
<polygon fill="#709c3c"  points="787.0,225.7 788.2,221.3 791.4,220.0 796.4,219.4 800.1,220.0 803.9,221.3 810.2,221.9 816.4,223.8 822.7,226.3 827.7,229.4 831.4,232.6 832.1,235.7 828.9,238.2 823.9,239.8 818.9,240.1 812.7,239.4 807.6,238.2 803.9,236.3 802.6,235.7 804.5,237.6 808.3,239.4 811.4,241.3 812.0,245.1 814.5,248.2 818.3,250.7 822.0,252.6 825.2,252.0 823.9,249.5 820.2,247.6 820.8,245.7 825.2,247.0 829.6,248.2 831.4,246.3 829.6,243.8 831.4,241.3 835.2,239.4 838.9,238.2 843.3,238.6 843.9,235.7 842.1,232.6 840.2,228.8 837.7,225.7 837.1,224.4 841.4,224.4 845.8,226.3 847.7,228.8 845.2,231.3 847.1,233.8 850.8,234.4 854.6,231.3 857.7,228.2 862.7,226.3 867.7,224.4 872.7,222.8 877.7,221.9 880.9,221.3 880.9,287.0 793.6,287.0 793.9,280.1 794.5,275.1 798.9,273.2 796.4,272.0 798.3,268.2 800.1,265.1 802.6,262.0 802.0,258.2 798.9,253.8 796.4,248.8 795.8,243.8 793.9,238.8 792.6,233.2 789.5,229.4"/>
<polygon fill="#709c3c"  points="856.5,189.4 855.8,193.8 855.2,198.8 856.5,202.5 860.2,205.0 865.2,206.9 870.2,208.8 875.2,209.4 877.7,207.5 874.0,205.6 870.2,202.5 868.4,198.8 867.1,193.8 867.1,189.4"/>
<polygon fill="#709c3c"  points="850.8,219.4 852.7,217.8 855.8,218.2 857.1,220.0 855.2,221.9 852.1,221.9"/>
</g>
<clipPath id="cE5"><rect x="690" y="256" width="120" height="64"/></clipPath>
<g id="tE5" clip-path="url(#cE5)">
<polygon fill="#f6ca0c"  points="689.6,255.6 810.6,255.6 810.6,320.7 689.6,320.7"/>
<polygon fill="#ffffff"  points="689.6,255.6 708.8,255.6 708.4,259.3 709.6,263.5 710.0,267.7 711.3,272.7 712.1,277.7 712.9,281.9 716.7,284.4 720.9,285.6 722.1,289.4 721.7,292.7 722.5,295.6 719.2,296.9 715.0,297.6 710.9,299.0 707.9,301.5 706.3,304.8 703.4,306.9 700.8,308.2 698.3,306.1 699.6,302.7 697.9,300.6 694.2,299.8 692.5,296.9 690.0,294.0 689.6,293.6"/>
<polygon fill="#ffffff"  points="698.3,306.1 700.8,308.2 699.2,310.2 696.7,312.7 693.3,314.4 690.0,315.7 689.6,315.7 689.6,310.2 692.5,309.8 695.8,309.0 697.9,308.2"/>
<polygon fill="#ffffff"  points="729.2,280.2 730.9,277.7 732.6,280.2 734.6,281.9 736.7,284.4 738.8,287.3 740.9,288.1 743.4,286.9 746.7,285.6 750.1,284.8 752.2,285.2 752.6,288.1 752.2,291.0 750.1,293.1 746.7,294.8 744.2,295.9 742.2,294.0 740.1,291.9 737.1,292.7 734.2,294.4 731.7,293.6 729.2,292.7 728.0,290.2 728.4,286.9 728.8,283.5"/>
<polygon fill="#f6ca0c"  points="731.7,283.5 733.8,282.7 735.5,284.8 736.3,287.7 734.6,289.8 732.6,289.4 731.3,286.9"/>
<polygon fill="#f6ca0c"  points="745.5,289.0 746.7,288.5 747.2,290.2 745.9,290.6"/>
<polygon fill="#ffffff"  points="752.6,255.6 768.4,255.6 766.4,258.5 765.5,261.8 765.9,265.2 766.4,268.5 767.2,271.4 770.1,272.7 772.6,274.8 774.3,276.4 777.6,275.2 781.8,273.9 786.0,273.5 790.1,273.1 794.3,271.4 796.8,272.3 799.3,273.5 797.6,275.2 794.3,276.0 792.2,278.1 790.1,277.3 786.0,276.7 781.8,276.4 778.5,277.3 775.1,278.5 772.2,278.1 770.1,279.4 768.9,281.9 768.4,284.4 771.4,284.8 775.1,284.0 778.5,284.4 782.6,285.2 786.0,286.5 788.5,288.1 788.1,290.6 786.0,292.3 781.8,292.7 777.6,292.3 773.4,292.1 769.3,291.9 765.1,292.3 761.8,292.7 760.1,291.5 759.7,289.0 760.9,286.0 761.8,283.5 760.9,281.0 759.3,279.4 756.8,278.5 754.7,276.9 752.6,274.8 753.4,273.5 755.9,273.1 757.6,271.0 758.4,268.5 757.6,266.0 755.9,263.5 753.8,261.0 752.6,258.5"/>
<polygon fill="#f6ca0c"  points="762.2,272.3 764.3,272.3 764.7,274.4 762.6,274.4"/>
<polygon fill="#709c3c"  points="802.2,255.6 802.7,259.3 801.0,262.7 798.5,266.0 796.0,268.9 793.9,271.4 796.8,272.3 799.3,273.5 797.6,275.2 794.3,276.0 793.1,278.5 793.5,281.9 794.7,286.0 796.0,289.4 798.1,291.9 801.0,292.7 805.2,293.1 807.7,294.4 808.9,297.7 810.6,300.2 810.6,255.6"/>
<polyline fill="none" stroke="#ffffff" stroke-width="0.5" points="725.2,285.0 722.9,281.3"/>
<polyline fill="none" stroke="#ffffff" stroke-width="0.5" points="723.8,285.3 723.3,282.2"/>
<polyline fill="none" stroke="#ffffff" stroke-width="0.5" points="722.8,285.5 722.2,282.5"/>
<polyline fill="none" stroke="#ffffff" stroke-width="0.5" points="722.1,285.6 719.2,281.6"/>
<polyline fill="none" stroke="#ffffff" stroke-width="0.5" points="721.0,285.8 721.7,281.0"/>
<polyline fill="none" stroke="#ffffff" stroke-width="0.5" points="720.1,285.6 721.7,282.1"/>
<polyline fill="none" stroke="#ffffff" stroke-width="0.5" points="718.7,285.2 719.8,279.7"/>
<polyline fill="none" stroke="#ffffff" stroke-width="0.5" points="717.2,284.8 719.0,282.4"/>
<polyline fill="none" stroke="#ffffff" stroke-width="0.5" points="716.3,284.4 717.1,281.0"/>
<polyline fill="none" stroke="#ffffff" stroke-width="0.5" points="715.5,283.8 717.3,277.2"/>
<polyline fill="none" stroke="#ffffff" stroke-width="0.5" points="714.4,283.1 717.0,277.8"/>
<polyline fill="none" stroke="#ffffff" stroke-width="0.5" points="713.5,282.5 713.9,279.5"/>
<polyline fill="none" stroke="#ffffff" stroke-width="0.5" points="712.7,281.7 718.6,280.0"/>
<polyline fill="none" stroke="#ffffff" stroke-width="0.5" points="712.4,280.6 718.0,279.3"/>
<polyline fill="none" stroke="#ffffff" stroke-width="0.5" points="712.2,279.6 719.0,279.6"/>
<polyline fill="none" stroke="#ffffff" stroke-width="0.5" points="712.0,278.6 717.6,277.7"/>
<polyline fill="none" stroke="#ffffff" stroke-width="0.5" points="711.8,277.3 717.8,274.9"/>
<polyline fill="none" stroke="#ffffff" stroke-width="0.5" points="711.5,275.8 714.8,274.9"/>
<polyline fill="none" stroke="#ffffff" stroke-width="0.5" points="711.3,274.4 714.8,273.8"/>
<polyline fill="none" stroke="#ffffff" stroke-width="0.5" points="711.2,273.5 717.2,274.1"/>
<polyline fill="none" stroke="#ffffff" stroke-width="0.5" points="711.0,272.4 717.4,269.5"/>
<polyline fill="none" stroke="#ffffff" stroke-width="0.5" points="710.6,271.1 716.3,270.2"/>
<polyline fill="none" stroke="#ffffff" stroke-width="0.5" points="710.4,269.9 717.2,271.3"/>
<polyline fill="none" stroke="#ffffff" stroke-width="0.5" points="710.1,269.0 714.8,265.2"/>
<polyline fill="none" stroke="#ffffff" stroke-width="0.5" points="709.8,267.5 715.3,269.8"/>
<polyline fill="none" stroke="#ffffff" stroke-width="0.5" points="709.6,266.3 713.7,265.4"/>
<polyline fill="none" stroke="#ffffff" stroke-width="0.5" points="709.5,265.0 712.3,264.6"/>
<polyline fill="none" stroke="#ffffff" stroke-width="0.5" points="709.4,264.1 712.3,262.4"/>
<polyline fill="none" stroke="#ffffff" stroke-width="0.5" points="709.1,262.8 712.1,261.0"/>
<polyline fill="none" stroke="#ffffff" stroke-width="0.5" points="708.9,261.8 714.2,257.1"/>
<polyline fill="none" stroke="#ffffff" stroke-width="0.5" points="708.5,260.5 714.0,261.0"/>
<polyline fill="none" stroke="#ffffff" stroke-width="0.5" points="708.1,259.2 715.2,258.4"/>
<polyline fill="none" stroke="#ffffff" stroke-width="0.5" points="708.3,258.0 712.3,260.1"/>
<polyline fill="none" stroke="#ffffff" stroke-width="0.5" points="708.4,256.7 711.8,255.9"/>
<polyline fill="none" stroke="#ffffff" stroke-width="0.5" points="708.5,255.6 712.4,256.0"/>
</g>
<clipPath id="cE6"><rect x="640" y="262" width="50" height="96"/></clipPath>
<g id="tE6" clip-path="url(#cE6)">
<polygon fill="#ffffff"  points="639.4,261.4 820.6,261.4 820.6,358.9 639.4,358.9"/>
<polygon fill="#f6ca0c"  points="655.0,303.9 656.2,299.5 657.5,294.5 661.9,292.6 666.9,290.1 671.2,290.5 672.2,293.2 671.2,297.0 670.6,300.8 668.1,303.2 663.8,304.8 658.8,305.8"/>
<polygon fill="#f6ca0c"  points="671.9,282.6 673.1,278.2 675.6,275.1 680.0,274.5 681.2,272.6 681.9,275.8 681.2,278.9 685.0,279.5 683.8,282.6 681.9,285.8 685.6,287.0 688.1,288.9 689.4,292.6 692.5,296.4 695.0,299.5 698.8,300.8 699.8,303.2 698.1,306.4 695.0,308.5 690.0,309.5 685.0,310.1 680.0,311.4 675.6,313.2 673.8,312.6 676.2,310.1 680.0,307.6 677.5,305.8 675.6,303.9 677.5,300.8 681.2,298.2 680.0,294.5 676.9,292.0 675.0,288.9 672.8,286.4"/>
<polygon fill="#f6ca0c"  points="668.1,263.9 671.2,263.9 671.0,266.4 670.0,268.2 668.5,266.4"/>
<polygon fill="#f6ca0c"  points="688.1,272.6 690.6,272.0 691.0,273.9 688.8,274.5"/>
<polygon fill="#f6ca0c"  points="687.5,264.2 688.8,263.9 689.0,265.8 687.8,265.8"/>
<polygon fill="#f6ca0c"  points="724.4,343.2 726.9,341.4 729.4,342.0 730.0,347.0 729.4,352.0 727.5,356.4 725.0,355.8 724.0,350.8 723.8,347.0"/>
<polygon fill="#f6ca0c"  points="702.5,353.9 705.0,353.5 705.2,354.8 702.8,355.1"/>
<polygon fill="#f6ca0c"  points="698.8,356.0 700.0,355.8 700.2,356.8"/>
<polygon fill="#f6ca0c"  points="708.1,261.4 710.0,267.0 711.9,272.0 712.5,277.0 713.8,280.8 716.2,283.9 720.0,285.1 722.5,287.0 723.1,290.8 722.5,295.1 720.0,297.0 715.0,298.2 711.2,299.5 708.1,302.0 705.6,305.8 702.5,308.2 698.8,310.1 695.0,312.0 690.0,312.6 686.2,313.2 683.1,314.5 682.5,317.0 680.0,318.0 676.2,318.9 675.0,321.4 678.8,322.0 683.1,323.2 686.2,325.8 688.1,328.2 688.8,332.0 689.0,335.8 688.5,338.9 681.2,338.5 675.0,338.2 668.8,338.0 662.5,338.5 659.4,340.1 658.8,344.5 659.4,349.5 658.1,354.5 657.5,358.9 692.5,358.9 691.9,355.1 695.0,352.0 698.8,348.9 702.5,345.8 705.0,342.0 707.5,339.5 712.5,340.1 717.5,340.8 721.2,338.9 725.0,336.4 727.5,335.5 730.6,335.1 730.6,261.4"/>
</g>
<clipPath id="cE6b"><rect x="690" y="320" width="30" height="38"/></clipPath>
<g id="tE6b" clip-path="url(#cE6b)">
<polygon fill="#ffffff"  points="639.4,261.4 820.6,261.4 820.6,358.9 639.4,358.9"/>
<polygon fill="#f6ca0c"  points="655.0,303.9 656.2,299.5 657.5,294.5 661.9,292.6 666.9,290.1 671.2,290.5 672.2,293.2 671.2,297.0 670.6,300.8 668.1,303.2 663.8,304.8 658.8,305.8"/>
<polygon fill="#f6ca0c"  points="671.9,282.6 673.1,278.2 675.6,275.1 680.0,274.5 681.2,272.6 681.9,275.8 681.2,278.9 685.0,279.5 683.8,282.6 681.9,285.8 685.6,287.0 688.1,288.9 689.4,292.6 692.5,296.4 695.0,299.5 698.8,300.8 699.8,303.2 698.1,306.4 695.0,308.5 690.0,309.5 685.0,310.1 680.0,311.4 675.6,313.2 673.8,312.6 676.2,310.1 680.0,307.6 677.5,305.8 675.6,303.9 677.5,300.8 681.2,298.2 680.0,294.5 676.9,292.0 675.0,288.9 672.8,286.4"/>
<polygon fill="#f6ca0c"  points="668.1,263.9 671.2,263.9 671.0,266.4 670.0,268.2 668.5,266.4"/>
<polygon fill="#f6ca0c"  points="688.1,272.6 690.6,272.0 691.0,273.9 688.8,274.5"/>
<polygon fill="#f6ca0c"  points="687.5,264.2 688.8,263.9 689.0,265.8 687.8,265.8"/>
<polygon fill="#f6ca0c"  points="724.4,343.2 726.9,341.4 729.4,342.0 730.0,347.0 729.4,352.0 727.5,356.4 725.0,355.8 724.0,350.8 723.8,347.0"/>
<polygon fill="#f6ca0c"  points="702.5,353.9 705.0,353.5 705.2,354.8 702.8,355.1"/>
<polygon fill="#f6ca0c"  points="698.8,356.0 700.0,355.8 700.2,356.8"/>
<polygon fill="#f6ca0c"  points="708.1,261.4 710.0,267.0 711.9,272.0 712.5,277.0 713.8,280.8 716.2,283.9 720.0,285.1 722.5,287.0 723.1,290.8 722.5,295.1 720.0,297.0 715.0,298.2 711.2,299.5 708.1,302.0 705.6,305.8 702.5,308.2 698.8,310.1 695.0,312.0 690.0,312.6 686.2,313.2 683.1,314.5 682.5,317.0 680.0,318.0 676.2,318.9 675.0,321.4 678.8,322.0 683.1,323.2 686.2,325.8 688.1,328.2 688.8,332.0 689.0,335.8 688.5,338.9 681.2,338.5 675.0,338.2 668.8,338.0 662.5,338.5 659.4,340.1 658.8,344.5 659.4,349.5 658.1,354.5 657.5,358.9 692.5,358.9 691.9,355.1 695.0,352.0 698.8,348.9 702.5,345.8 705.0,342.0 707.5,339.5 712.5,340.1 717.5,340.8 721.2,338.9 725.0,336.4 727.5,335.5 730.6,335.1 730.6,261.4"/>
</g>
<clipPath id="cE7"><rect x="700" y="320" width="120" height="64"/></clipPath>
<g id="tE7" clip-path="url(#cE7)">
<polygon fill="#f6ca0c"  points="699.6,319.6 820.6,319.6 820.6,384.7 699.6,384.7"/>
<polygon fill="#ffffff"  points="699.6,348.0 702.5,346.7 704.2,344.2 706.3,340.9 708.3,339.6 711.7,339.9 715.9,340.4 718.8,338.8 721.7,336.7 725.0,335.4 728.4,335.2 730.9,336.3 732.1,338.8 733.4,340.0 735.9,342.1 738.4,344.2 740.9,346.3 743.4,348.4 745.9,350.0 748.4,352.1 750.9,353.4 753.4,355.0 755.1,357.1 754.2,359.2 753.0,359.9 750.1,360.1 746.7,360.2 743.4,360.5 741.3,360.9 741.7,362.6 744.2,363.4 747.6,364.6 750.9,365.7 752.6,365.5 753.4,363.4 753.4,361.3 755.1,360.1 757.6,358.4 759.2,356.3 759.7,354.2 758.4,352.1 760.1,350.9 762.6,352.1 764.3,351.7 763.8,350.0 761.8,348.8 758.4,347.1 755.1,345.0 751.7,344.2 749.2,342.5 747.1,340.9 745.5,338.8 743.4,336.7 740.9,335.0 739.6,332.5 740.5,330.4 742.6,330.0 744.2,331.7 745.5,333.8 748.4,335.4 750.9,337.5 754.2,339.2 757.6,340.9 760.9,341.9 764.3,343.4 766.8,345.0 767.2,347.5 768.0,350.5 770.1,353.0 772.6,355.5 774.3,358.0 773.9,359.6 776.8,360.9 779.3,363.4 782.2,365.1 783.4,363.4 785.1,361.7 786.8,360.5 786.4,358.8 784.3,357.6 782.6,355.0 781.4,353.0 781.8,350.9 783.4,352.1 785.1,353.4 787.6,351.3 790.1,349.6 793.5,349.2 796.0,350.5 798.5,350.0 800.1,348.8 803.5,348.4 805.1,348.0 804.3,349.2 801.8,350.0 799.3,351.0 796.8,352.1 796.0,354.2 796.8,356.7 795.1,358.4 797.6,359.6 800.1,361.7 802.6,364.2 805.1,365.5 808.5,366.3 811.8,365.9 815.2,365.5 818.5,365.7 820.6,365.9 820.6,384.7 735.9,384.7 736.7,381.8 736.3,378.4 735.0,375.1 733.4,373.0 730.9,372.2 727.5,372.6 723.4,373.2 718.4,373.4 713.4,373.8 708.3,374.2 704.2,374.4 699.6,374.7"/>
<polygon fill="#ffffff"  points="820.6,325.4 816.8,325.2 813.5,325.8 810.2,327.5 806.8,330.0 804.3,332.5 803.1,335.9 801.4,338.8 800.6,341.7 801.4,344.2 803.5,346.3 806.8,347.1 810.2,347.5 813.5,346.9 816.8,345.9 820.6,345.0"/>
<polygon fill="#f6ca0c"  points="725.5,342.9 726.7,341.5 728.8,341.3 729.4,343.4 728.8,346.7 727.5,348.4 725.9,347.5 725.0,345.0"/>
<polygon fill="#f6ca0c"  points="723.8,349.2 725.0,348.4 728.0,348.8 729.6,350.0 729.6,353.4 728.8,356.3 726.7,356.9 725.0,356.3 724.6,353.4 724.2,351.3"/>
<polygon fill="#f6ca0c"  points="786.4,370.1 789.3,369.4 792.6,369.7 796.0,369.9 797.2,370.5 794.3,371.1 790.1,371.1 787.2,370.9"/>
<polygon fill="#f6ca0c"  points="749.2,368.0 750.7,368.0 750.7,368.8 749.4,369.0"/>
<polygon fill="#f6ca0c"  points="702.9,353.8 704.6,353.6 704.8,354.5 703.2,354.6"/>
<polygon fill="#f6ca0c"  points="707.1,353.0 708.3,352.8 708.3,353.5 707.3,353.5"/>
<polygon fill="#f6ca0c"  points="790.5,351.7 791.8,351.5 792.0,352.7 790.8,352.9"/>
<polygon fill="#f6ca0c"  points="803.1,366.7 804.3,366.6 804.3,367.6 803.2,367.7"/>
<polygon fill="#f6ca0c"  points="794.7,355.0 796.0,355.5 795.5,356.7"/>
<polygon fill="#f6ca0c"  points="818.5,330.0 820.6,329.6 820.6,331.3 818.9,331.0"/>
<polygon fill="#f6ca0c"  points="817.2,370.5 820.6,370.1 820.6,371.7 817.7,371.6"/>
</g>
<clipPath id="cE8"><rect x="860" y="150" width="240" height="128"/></clipPath>
<g id="tE8" clip-path="url(#cE8)">
<polygon fill="#ffffff"  points="859.2,149.2 1101.2,149.2 1101.2,279.3 859.2,279.3"/>
<polygon fill="#709c3c"  points="859.2,225.1 865.0,223.4 871.7,221.8 878.4,219.3 885.0,218.4 889.2,221.8 892.5,219.3 893.4,216.8 890.9,213.1 885.0,210.9 881.7,208.4 886.7,210.1 891.7,212.6 896.7,212.6 905.1,213.4 913.4,215.9 920.1,219.8 919.2,215.9 915.1,210.9 910.1,205.1 906.7,200.1 908.4,193.4 909.2,187.6 908.4,184.2 911.7,182.5 914.2,185.9 920.1,187.6 921.4,193.4 924.3,199.2 927.6,205.9 931.8,211.8 935.9,216.8 937.1,222.6 935.4,227.1 930.1,228.1 924.3,229.3 931.8,231.4 937.6,230.9 940.9,225.9 941.8,220.9 940.1,216.4 942.6,214.3 946.8,215.9 951.0,219.8 956.0,220.4 952.6,218.4 948.5,214.3 945.1,211.4 940.1,211.8 935.9,209.2 931.8,204.2 928.4,198.4 926.4,192.6 926.8,188.4 930.1,192.6 934.3,195.4 939.3,197.6 944.3,198.7 941.8,196.7 936.8,192.6 933.4,189.7 938.4,187.1 943.4,187.6 948.5,189.2 953.5,191.7 956.8,195.1 960.1,199.2 963.5,202.1 968.5,204.2 974.3,204.2 969.3,203.1 964.3,200.1 960.1,195.1 956.0,190.9 950.1,186.7 945.1,183.4 941.8,179.7 946.8,176.7 953.5,175.0 960.1,175.0 956.8,170.9 952.6,166.7 953.5,162.5 957.6,157.5 963.5,152.5 966.8,149.2 1024.4,149.2 1022.7,155.0 1020.2,161.7 1019.4,169.2 1022.7,166.7 1026.9,163.4 1031.9,159.2 1038.6,156.7 1045.3,155.8 1053.6,155.0 1060.3,156.7 1067.0,155.0 1071.1,152.5 1072.0,149.2 1093.7,149.2 1097.0,155.0 1101.2,160.0 1101.2,279.3 859.2,279.3"/>
<polygon fill="#709c3c"  points="859.2,176.7 861.7,173.4 865.8,168.4 871.7,164.2 877.5,160.0 882.5,156.7 886.7,155.0 890.9,156.7 891.7,160.8 887.5,164.2 882.5,168.4 877.5,173.4 872.5,179.2 868.3,185.9 866.7,192.6 868.3,199.2 872.5,204.2 877.5,207.6 874.2,209.2 868.3,207.6 862.5,205.9 859.2,204.7"/>
<polygon fill="#709c3c"  points="1029.4,150.8 1032.7,150.0 1033.6,153.0 1030.2,153.7"/>
<polygon fill="#709c3c"  points="933.1,156.7 934.6,157.0 934.4,158.3 933.1,158.0"/>
<polygon fill="#709c3c"  points="934.3,161.3 935.8,161.7 935.6,163.0 934.3,162.7"/>
<polygon fill="#709c3c"  points="946.8,165.9 948.3,166.2 948.1,167.5 946.8,167.2"/>
<polygon fill="#709c3c"  points="923.4,179.7 924.9,180.0 924.8,181.4 923.4,181.0"/>
<polygon fill="#709c3c"  points="937.1,181.4 938.6,181.7 938.4,183.0 937.1,182.7"/>
</g>
<clipPath id="cE9"><rect x="1080" y="454" width="240" height="114"/></clipPath>
<g id="tE9" clip-path="url(#cE9)">
<polygon fill="#ffffff"  points="1079.2,439.2 1321.2,439.2 1321.2,569.3 1079.2,569.3"/>
<polygon fill="#709c3c"  points="1081.7,439.2 1090.0,440.0 1095.0,443.3 1097.5,448.3 1100.0,454.2 1101.7,460.0 1101.4,465.9 1102.5,470.9 1106.7,475.9 1110.9,480.9 1114.2,485.9 1119.2,489.2 1123.7,491.4 1125.9,491.7 1123.7,487.6 1122.6,483.4 1120.1,479.2 1115.9,475.9 1111.7,472.5 1108.4,468.4 1105.9,465.0 1106.7,460.0 1108.0,455.9 1110.0,454.2 1113.4,455.9 1118.4,457.5 1122.6,460.9 1125.9,465.0 1128.4,469.2 1133.4,466.7 1139.2,463.4 1144.3,459.7 1146.8,455.9 1145.9,450.8 1143.4,446.7 1140.1,443.3 1135.9,440.8 1133.4,439.2"/>
<polygon fill="#709c3c"  points="1089.2,480.1 1093.4,479.2 1099.2,481.7 1105.0,485.9 1110.9,490.1 1115.9,494.2 1120.9,497.6 1125.1,500.9 1130.1,504.3 1135.1,505.9 1136.7,508.4 1135.1,513.4 1134.2,517.6 1129.2,516.8 1124.2,513.4 1119.2,509.3 1114.2,504.3 1109.2,499.2 1104.2,493.4 1099.2,488.4 1094.2,484.2 1090.0,481.7"/>
<polygon fill="#709c3c"  points="1091.7,488.4 1093.4,489.2 1093.0,490.4"/>
<polygon fill="#709c3c"  points="1097.5,493.1 1100.9,495.9 1100.0,496.7 1097.0,494.1"/>
<polygon fill="#709c3c"  points="1103.4,500.9 1106.7,504.3 1105.9,505.1 1102.9,502.1"/>
<polygon fill="#709c3c"  points="1108.4,505.9 1110.9,508.4 1110.0,509.1"/>
<polygon fill="#709c3c"  points="1140.1,506.8 1144.3,506.4 1144.8,508.4 1140.9,508.8"/>
<polygon fill="#709c3c"  points="1147.6,502.6 1149.3,502.1 1149.8,504.3"/>
<polygon fill="#709c3c"  points="1080.8,469.2 1082.5,470.0 1083.7,475.0 1082.3,474.7"/>
<polygon fill="#709c3c"  points="1131.7,519.3 1136.7,518.1 1143.4,519.3 1151.8,520.4 1160.1,521.8 1166.8,523.4 1173.5,525.1 1180.1,526.0 1186.8,526.5 1186.8,528.0 1180.1,528.1 1172.6,527.6 1166.0,526.8 1158.4,525.5 1150.9,524.3 1143.4,523.1 1135.9,522.1 1132.1,520.9"/>
<polygon fill="#709c3c"  points="1188.5,526.0 1195.2,525.5 1201.8,525.1 1210.2,524.3 1218.5,523.4 1225.2,522.8 1225.5,524.3 1218.5,525.1 1210.2,526.0 1201.8,526.8 1195.2,527.1 1188.8,527.3"/>
<polygon fill="#709c3c"  points="1186.8,529.3 1191.0,529.8 1194.3,531.5 1193.5,532.6 1189.3,532.1 1186.5,530.6"/>
<polygon fill="#709c3c"  points="1201.8,533.5 1206.8,531.0 1211.8,528.5 1216.9,526.8 1221.9,526.0 1221.5,527.6 1216.9,529.3 1211.8,531.0 1206.8,533.5 1202.7,534.8"/>
<polygon fill="#709c3c"  points="1226.9,521.8 1231.9,521.1 1232.2,522.1 1227.2,522.8"/>
<polygon fill="#709c3c"  points="1236.9,521.8 1240.2,520.9 1241.1,522.6 1237.7,524.3"/>
<polygon fill="#709c3c"  points="1147.6,495.1 1151.8,492.6 1157.6,490.1 1162.6,487.6 1167.6,484.2 1172.6,480.9 1176.0,477.6 1180.1,475.9 1184.3,478.1 1186.8,480.1 1183.5,481.7 1181.0,483.7 1182.6,488.4 1184.3,492.6 1186.8,494.2 1183.5,495.9 1181.0,500.1 1178.5,504.3 1176.8,508.4 1176.0,510.9 1171.8,510.1 1166.8,508.8 1161.8,508.1 1156.8,507.6 1153.4,505.1 1150.9,501.8 1151.4,498.4 1148.4,497.6"/>
<polygon fill="#709c3c"  points="1191.0,495.9 1195.2,494.2 1201.8,493.7 1208.5,493.4 1213.5,492.6 1214.4,494.2 1211.8,496.4 1206.8,497.6 1201.0,497.6 1196.8,498.4 1195.2,500.9 1199.3,501.8 1204.3,500.4 1207.7,500.9 1206.5,503.4 1202.7,504.8 1201.0,507.6 1204.3,510.9 1205.2,515.1 1202.7,516.8 1199.3,514.3 1196.8,510.1 1195.2,506.8 1193.5,510.1 1194.3,515.1 1193.5,518.4 1191.0,517.6 1189.3,513.4 1188.1,509.3 1186.8,506.8 1188.5,503.4 1190.5,500.1"/>
<polygon fill="#709c3c"  points="1223.2,492.6 1225.5,490.1 1228.5,490.4 1228.9,493.4 1226.9,495.9 1228.5,499.2 1226.5,501.4 1223.9,500.4 1224.9,497.6 1222.7,495.9"/>
<polygon fill="#709c3c"  points="1221.9,502.6 1225.2,502.1 1225.5,504.3 1222.2,504.6"/>
<polygon fill="#709c3c"  points="1188.5,441.7 1191.0,439.2 1199.3,439.2 1198.8,443.3 1196.8,447.5 1199.3,450.0 1204.3,449.2 1208.5,450.8 1207.7,455.0 1211.8,455.0 1214.4,459.2 1216.0,463.4 1218.5,467.5 1219.9,472.5 1218.5,476.7 1215.2,478.7 1211.8,477.6 1209.3,474.2 1208.5,470.9 1204.3,470.9 1201.0,473.4 1199.8,476.7 1198.8,473.4 1201.0,470.0 1204.3,467.5 1202.7,464.2 1200.2,460.9 1198.5,456.7 1195.2,455.9 1192.2,451.7 1190.2,447.5"/>
<polygon fill="#709c3c"  points="1180.1,469.7 1184.3,465.0 1188.5,460.0 1191.0,455.9 1192.2,456.7 1189.3,461.7 1185.5,466.7 1181.5,470.9"/>
<polygon fill="#709c3c"  points="1214.4,485.1 1216.0,484.7 1216.4,486.7 1214.7,487.1"/>
<polygon fill="#709c3c"  points="1219.4,483.4 1221.0,483.1 1221.4,485.4 1219.7,485.7"/>
<polygon fill="#709c3c"  points="1209.3,504.3 1217.7,503.8 1218.2,505.4 1209.8,505.9"/>
<polygon fill="#709c3c"  points="1216.0,508.4 1221.0,507.9 1221.9,509.8 1216.5,510.4"/>
<polygon fill="#709c3c"  points="1236.9,498.4 1240.2,498.1 1239.9,499.7 1237.2,500.1"/>
<polygon fill="#709c3c"  points="1238.6,500.9 1242.7,499.2 1248.6,498.7 1251.9,500.9 1251.9,504.3 1256.9,505.1 1262.8,503.4 1266.9,503.1 1273.6,504.3 1280.3,505.9 1287.0,508.1 1293.6,510.9 1298.6,514.3 1303.6,517.6 1307.0,521.8 1311.2,526.0 1316.2,529.3 1320.0,531.0 1321.2,533.1 1315.3,532.6 1310.3,531.0 1306.1,527.6 1302.8,524.3 1298.6,523.4 1293.6,525.1 1288.6,527.6 1282.8,528.5 1277.8,527.6 1273.6,525.1 1270.3,521.8 1267.8,517.6 1263.6,514.3 1258.6,511.8 1253.6,510.9 1249.4,510.1 1246.9,506.8 1244.4,504.3 1240.2,503.4"/>
<polygon fill="#709c3c"  points="1250.2,515.9 1253.6,515.6 1253.9,520.4 1250.6,520.8"/>
<polygon fill="#709c3c"  points="1244.4,515.4 1246.1,515.1 1246.4,517.1"/>
<polygon fill="#709c3c"  points="1302.0,504.3 1306.1,503.9 1306.1,505.1 1302.3,505.4"/>
<polygon fill="#709c3c"  points="1316.2,505.9 1319.5,506.3 1319.5,507.3 1316.2,507.1"/>
<polygon fill="#709c3c"  points="1304.5,517.1 1311.2,516.4 1317.0,515.9 1321.2,515.1 1321.2,518.4 1317.0,518.8 1311.2,518.4 1305.3,518.4"/>
<polygon fill="#709c3c"  points="1176.8,569.3 1183.5,566.0 1190.2,561.8 1195.2,556.8 1198.5,554.3 1203.5,553.5 1208.5,549.3 1213.5,546.0 1218.5,545.1 1221.9,548.5 1226.9,546.8 1231.0,541.8 1236.0,539.3 1241.9,538.1 1248.6,538.5 1254.4,538.8 1258.6,540.1 1255.2,543.5 1253.6,548.5 1257.7,551.8 1263.6,555.2 1268.6,557.7 1273.6,558.8 1276.9,555.2 1278.6,548.5 1281.1,540.1 1282.8,535.1 1285.3,540.1 1287.8,546.8 1292.0,550.2 1294.5,556.8 1297.0,562.7 1301.1,567.7 1302.8,569.3"/>
<polygon fill="#709c3c"  points="1233.5,536.0 1238.6,535.1 1242.7,536.0 1241.9,537.6 1235.2,537.6"/>
<polygon fill="#709c3c"  points="1257.2,544.3 1259.4,544.3 1259.4,546.0 1257.2,546.0"/>
<polygon fill="#709c3c"  points="1200.2,472.5 1204.3,469.2 1209.3,467.5 1214.4,465.0 1218.5,467.5 1219.9,472.5 1218.5,476.7 1215.2,478.7 1211.8,477.6 1209.3,475.0 1205.2,473.4 1202.7,475.9 1200.2,476.4"/>
<polygon fill="#ffffff"  points="1201.0,452.5 1204.3,453.4 1205.2,456.7 1202.7,457.5"/>
<polygon fill="#ffffff"  points="1206.8,460.0 1209.3,459.7 1210.2,463.4 1207.7,464.2"/>
<polygon fill="#ffffff"  points="1211.0,466.7 1213.5,466.4 1214.4,469.7 1211.8,470.4"/>
<polygon fill="#d9b21a"  points="1224.4,508.1 1230.2,506.8 1236.9,507.6 1237.7,509.8 1231.0,510.4 1224.9,510.1"/>
<polyline fill="none" stroke="#e6efc0" stroke-width="0.6" points="1153.4,494.7 1163.4,493.7 1171.0,492.6 1174.3,487.6 1176.8,483.7 1181.8,483.1"/>
<polyline fill="none" stroke="#f2cc3a" stroke-width="0.8" points="1248.6,510.1 1256.9,512.1 1265.3,515.9 1269.4,521.8 1274.4,526.0 1280.3,528.1"/>
<polyline fill="none" stroke="#b5cf8a" stroke-width="0.5" points="1279.4,506.8 1279.4,524.3"/>
</g>
<clipPath id="cE10"><rect x="200" y="360" width="240" height="128"/></clipPath>
<g id="tE10" clip-path="url(#cE10)">
<polygon fill="#ffffff"  points="199.2,359.2 441.2,359.2 441.2,489.3 199.2,489.3"/>
<polygon fill="#f6ca0c"  points="199.2,359.2 381.9,359.2 381.1,363.3 376.9,367.5 370.2,372.5 364.4,375.9 359.4,378.4 356.9,382.5 357.7,387.5 358.6,393.4 358.2,399.2 355.2,401.7 352.7,399.2 351.0,394.2 348.5,390.0 345.2,386.7 340.2,384.7 333.5,383.7 327.7,384.2 322.7,386.7 316.8,387.0 310.2,386.4 303.5,386.7 297.6,388.7 293.5,391.7 290.1,395.0 287.6,399.2 286.8,400.1 282.6,395.9 280.1,391.7 277.1,387.5 273.4,385.9 269.3,386.4 265.1,386.7 261.8,383.4 258.4,380.0 255.9,377.5 250.1,377.5 243.4,378.0 235.9,377.0 228.4,375.4 220.0,373.7 211.7,372.5 208.3,369.2 204.2,365.8 199.2,363.7"/>
<polygon fill="#ffc000"  points="211.3,372.9 220.0,374.0 228.4,375.7 235.9,377.4 243.4,378.4 250.1,377.9 255.9,377.9 258.4,380.4 261.8,383.7 265.1,387.0 269.3,386.7 273.4,386.2 277.1,387.9 280.1,392.0 282.6,396.2 286.8,400.4 286.0,406.7 285.5,413.4 287.6,418.4 291.0,422.6 296.0,425.9 301.8,427.1 306.8,426.4 310.2,423.4 313.5,419.2 318.5,417.1 324.3,416.4 329.8,416.7 328.5,420.9 326.0,425.9 324.3,430.1 322.7,433.4 321.0,435.9 324.3,436.4 331.8,435.4 338.5,436.4 342.7,438.1 342.2,442.6 341.0,446.8 339.4,451.0 341.9,453.5 345.2,456.0 346.9,453.5 349.4,456.0 350.2,460.1 354.4,463.5 358.6,466.8 364.4,468.5 370.2,466.8 374.4,467.6 377.7,470.2 380.2,474.3 376.9,471.8 373.6,470.2 370.2,471.0 366.9,473.5 362.7,472.2 357.7,470.2 352.7,468.5 347.7,466.0 344.4,461.8 341.9,457.6 338.5,453.5 334.4,451.0 328.5,449.3 324.3,446.0 319.3,443.4 313.5,442.1 308.5,440.1 303.5,437.6 298.5,435.9 293.5,435.9 286.8,436.4 280.1,435.1 273.4,433.4 266.8,430.9 260.9,428.4 255.9,425.9 252.6,422.6 251.4,418.4 252.6,415.1 250.1,411.7 246.7,407.6 242.6,403.4 239.2,400.1 237.6,396.7 234.2,392.5 230.9,388.4 228.4,384.2 226.7,380.0 225.0,377.5 221.7,376.7 220.0,378.4 220.9,382.5 223.4,387.5 226.7,393.4 230.0,399.2 233.4,405.1 235.9,408.4 236.4,410.4 233.4,409.7 230.9,405.9 227.5,401.7 223.4,397.6 219.2,394.2 217.5,392.5 220.0,390.0 218.4,385.0 215.9,380.0 213.4,375.9"/>
<polygon fill="#ffc000"  points="337.7,414.2 341.9,411.7 346.9,410.1 351.9,409.7 357.7,410.9 363.6,413.1 368.6,415.4 374.4,417.6 379.4,419.2 381.1,420.9 376.9,422.1 371.1,422.1 366.9,420.1 362.7,417.6 357.7,415.4 351.9,413.7 346.9,413.4 341.9,414.7"/>
<polygon fill="#ffc000"  points="344.9,414.2 346.9,413.9 347.2,415.6 345.2,415.9"/>
<polygon fill="#ffc000"  points="363.6,427.1 367.7,426.4 371.9,427.4 371.9,428.8 367.7,429.4 364.4,428.8"/>
<polygon fill="#ffc000"  points="379.4,426.8 382.8,425.9 384.4,422.6 386.9,420.9 390.3,422.1 391.6,425.4 389.4,428.1 384.4,428.4 381.1,428.1"/>
<polygon fill="#ffc000"  points="402.3,435.1 403.3,432.1 407.8,431.4 412.8,431.8 417.0,433.8 418.6,436.4 414.5,437.1 410.3,437.6 406.1,438.4 402.8,439.3"/>
<polygon fill="#ffc000"  points="422.3,436.4 427.0,435.9 430.3,436.8 430.0,438.4 425.3,438.8 422.5,438.1"/>
<polygon fill="#ffc000"  points="364.4,397.6 368.6,397.1 371.1,398.1 371.6,400.9 370.2,400.9 369.4,398.7 364.9,398.7"/>
<polygon fill="#ffc000"  points="366.1,403.7 368.2,404.2 368.9,407.6 367.2,408.1 366.4,405.9"/>
<polygon fill="#ffc000"  points="372.7,403.1 374.4,403.7 374.9,405.9 373.6,405.4"/>
<polygon fill="#ffc000"  points="376.9,408.4 378.9,410.1 378.2,411.4 376.6,410.1"/>
<polygon fill="#ffc000"  points="381.1,411.7 383.3,413.1 382.6,414.2 380.8,413.1"/>
<polygon fill="#ffc000"  points="384.4,413.1 386.6,413.7 386.1,415.1"/>
<polygon fill="#ffc000"  points="383.6,416.7 385.6,417.1 385.3,418.4"/>
<polygon fill="#ffc000"  points="437.8,437.1 441.2,436.8 441.2,438.1 438.2,438.4"/>
<polygon fill="#ffc000"  points="350.2,423.8 351.9,423.8 351.9,424.6 350.2,424.6"/>
<polygon fill="#f6ca0c"  points="378.2,489.3 379.4,483.5 379.9,476.8 378.6,473.5 380.2,470.2 384.4,466.0 390.3,462.1 396.9,459.8 402.8,458.1 405.0,457.1 405.3,459.8 403.6,463.8 402.8,466.8 405.0,464.8 406.6,461.0 407.8,458.5 412.0,457.6 417.0,458.1 422.0,460.1 428.6,461.5 435.3,461.0 441.2,460.1 441.2,489.3"/>
<polyline fill="none" stroke="#ffe9a0" stroke-width="0.5" points="211.3,372.7 220.0,373.9 228.4,375.5 235.9,377.2 243.4,378.2 250.1,377.7 255.9,377.7 258.4,380.2 261.8,383.5 265.1,386.9 269.3,386.5 273.4,386.0 277.1,387.7 280.1,391.9 282.6,396.0 286.8,400.2"/>
</g>
<clipPath id="cF1"><rect x="900" y="262" width="180" height="96"/></clipPath>
<g id="tF1" clip-path="url(#cF1)">
<polyline fill="none" stroke="#ffe48c" stroke-width="0.7" points="1025.2,314.6 1003.9,318.1 982.6,321.5 965.1,329.0 948.8,335.9 947.8,347.1 946.9,359.0"/>
<polyline fill="none" stroke="#ffe48c" stroke-width="0.5" points="911.3,337.1 922.5,336.9 933.8,342.1 947.6,341.5"/>
<polyline fill="none" stroke="#ffe48c" stroke-width="0.5" points="950.1,344.6 955.1,352.1 965.1,352.8 970.1,350.2"/>
<polyline fill="none" stroke="#ffe48c" stroke-width="0.5" points="899.4,349.6 907.5,350.9 916.3,354.0 920.0,349.6"/>
<polyline fill="none" stroke="#5fb8a8" stroke-width="0.7" points="1026.4,314.6 1032.7,310.8 1037.7,306.4 1050.2,307.1 1065.2,308.9 1062.7,302.1 1066.5,298.3 1080.9,299.6"/>
<polyline fill="none" stroke="#5fb8a8" stroke-width="0.7" points="1026.4,314.6 1032.7,319.0 1041.4,320.2 1045.2,329.6 1056.5,332.1 1069.0,340.9 1080.9,341.5"/>
<polyline fill="none" stroke="#8fb56a" stroke-width="0.5" points="1026.4,315.2 1080.9,314.6"/>
</g>
<clipPath id="cF2"><rect x="900" y="358" width="180" height="96"/></clipPath>
<g id="tF2" clip-path="url(#cF2)">
<polygon fill="none" stroke="#ffe48c" stroke-width="0.7" points="937.6,375.5 942.6,374.3 950.1,371.8 952.6,368.6 958.8,367.4 964.5,368.0 968.2,367.4 972.6,365.5 975.7,363.6 978.2,366.8 979.5,370.5 978.9,374.3 979.5,379.3 975.1,381.2 973.9,384.9 970.1,389.3 965.1,391.2 962.0,393.7 961.3,396.8 955.1,397.8 950.1,398.3 943.8,398.1 941.3,396.8 943.2,393.0 941.3,389.9 938.2,386.2 936.9,381.2 937.6,376.8"/>
<polyline fill="none" stroke="#ffe48c" stroke-width="0.7" points="992.6,385.5 994.5,387.4 993.9,391.2 992.0,395.6 988.9,399.9 985.1,402.4 980.1,403.7 977.6,406.2 979.5,409.3 982.0,411.2 983.2,415.0"/>
<polyline fill="none" stroke="#f2f5d8" stroke-width="0.8" points="983.9,372.4 986.4,369.9 990.1,367.4 995.1,368.0 998.9,371.1 1002.6,373.6 1007.6,376.8 1011.4,380.5 1013.3,384.3 1010.2,384.9 1006.4,383.7 1002.6,383.0 998.9,384.9 995.1,386.2 992.6,385.5 989.5,382.4 987.6,379.3 989.5,376.2 986.4,374.3 983.9,372.4"/>
<polyline fill="none" stroke="#ffe48c" stroke-width="0.7" points="945.1,357.4 944.4,369.9 952.6,372.4 975.1,381.2 995.1,386.8"/>
<polyline fill="none" stroke="#c9d79a" stroke-width="0.5" points="995.1,386.8 1023.9,406.8 1054.0,408.1"/>
<polyline fill="none" stroke="#5fb8a8" stroke-width="0.7" points="1018.9,396.8 1020.2,393.7 1025.2,393.7 1031.4,396.2 1037.7,398.7 1043.9,400.6 1050.2,401.8 1052.7,403.1 1053.3,406.8 1047.7,407.1 1040.2,406.2 1032.7,404.3 1025.2,401.8 1020.2,399.3 1018.9,396.8"/>
<polyline fill="none" stroke="#ffe48c" stroke-width="0.5" points="941.3,396.8 943.2,399.9 946.9,402.4 950.1,405.6 946.9,408.1 945.7,411.2 945.1,413.1"/>
</g>
<clipPath id="cF3"><rect x="1078" y="262" width="360" height="192"/></clipPath>
<g id="tF3" clip-path="url(#cF3)">
<polyline fill="none" stroke="#5fb8a8" stroke-width="0.7" points="1076.7,299.1 1090.5,305.8 1105.5,308.3 1120.6,307.1 1134.3,303.3 1138.1,303.3 1136.8,312.1 1149.3,312.1 1155.6,315.8 1150.6,320.8 1140.6,324.6 1129.3,328.3 1126.8,334.6 1118.1,338.4 1105.5,344.6 1090.5,342.1 1076.7,341.1"/>
<polyline fill="none" stroke="#8fb56a" stroke-width="0.5" points="1076.7,314.6 1134.3,308.6"/>
<polyline fill="none" stroke="#e3ecc0" stroke-width="0.6" points="1139.3,303.3 1145.6,300.8 1146.8,294.5 1144.3,287.0 1150.6,282.5 1160.6,282.0 1169.4,287.0 1174.4,293.3 1179.4,299.6 1188.2,302.1 1195.7,308.3 1204.4,307.1 1211.9,304.6 1213.7,310.8 1211.9,320.8 1205.7,323.3 1206.9,330.8 1208.2,334.6 1200.7,339.6 1193.2,344.6 1188.2,348.4"/>
<polyline fill="none" stroke="#a9c57f" stroke-width="0.5" points="1076.7,412.2 1088.0,416.0 1098.0,422.2 1105.5,424.7 1115.6,434.7 1125.6,437.2"/>
<polyline fill="none" stroke="#a9c57f" stroke-width="0.5" points="1089.3,399.7 1095.5,404.7 1094.3,414.7 1101.8,418.5"/>
</g>
<clipPath id="cF4"><rect x="0" y="70" width="360" height="192"/></clipPath>
<g id="tF4" clip-path="url(#cF4)">
<polyline fill="none" stroke="#f9d94d" stroke-width="0.5" points="222.8,156.4 200.3,187.7 175.2,225.2"/>
</g>
<clipPath id="cG1"><rect x="700" y="120" width="100" height="64"/></clipPath>
<g id="tG1" clip-path="url(#cG1)">
<polygon fill="#ffffff"  points="699.6,119.6 820.4,119.6 820.4,184.6 699.6,184.6"/>
<polygon fill="#f8c40e" stroke="#f2855c" stroke-width="0.9" points="720.4,147.9 721.7,145.4 725.0,144.6 728.3,145.0 730.4,146.7 732.9,146.2 733.8,143.3 735.8,143.8 737.5,145.0 739.2,147.1 741.7,147.5 744.2,149.2 746.7,151.2 748.8,153.3 751.7,155.0 754.2,156.7 756.7,158.8 758.8,160.8 761.2,162.1 760.0,164.2 757.9,166.2 755.8,167.1 753.3,165.4 751.2,165.4 750.4,163.3 750.8,160.8 749.2,157.5 747.5,154.6 745.4,154.2 745.0,157.5 744.6,160.8 743.8,164.2 742.5,167.5 741.7,170.8 741.2,173.3 739.2,173.8 737.9,171.7 735.8,170.0 733.3,167.5 731.7,165.0 730.8,161.7 732.1,159.2 730.0,157.5 726.7,156.7 724.2,155.0 722.1,152.5 720.8,150.4"/>
<polygon fill="#f8c40e" stroke="#f2855c" stroke-width="0.9" points="740.0,142.1 741.7,138.8 743.3,137.9 745.4,140.0 748.3,140.4 750.4,138.8 752.5,138.8 754.2,140.0 757.5,139.3 761.7,140.0 765.0,140.4 764.2,143.3 762.1,145.8 759.2,147.9 755.8,149.2 753.3,149.2 750.8,147.9 748.3,147.1 745.4,147.5 743.3,145.8 741.2,144.6"/>
<polyline fill="none" stroke="#f2855c" stroke-width="0.7" points="734.2,144.2 735.0,148.3 736.7,152.5 735.8,155.8"/>
<polyline fill="none" stroke="#f2855c" stroke-width="0.7" points="729.2,146.7 731.7,150.8 733.3,155.0"/>
<polyline fill="none" stroke="#f2855c" stroke-width="0.7" points="739.2,147.5 741.7,151.7 744.2,155.0"/>
<polyline fill="none" stroke="#f2855c" stroke-width="0.7" points="745.0,145.0 749.2,145.8 750.0,144.2"/>
<polygon fill="#f2855c"  points="721.2,154.6 722.5,155.0 725.0,158.3 724.6,159.2 722.1,156.7"/>
<polygon fill="#f2855c"  points="744.6,135.0 747.1,135.4 746.7,136.2 744.6,135.8"/>
<polygon fill="#f2855c"  points="775.0,139.3 778.8,137.5 779.6,138.5 775.8,140.2"/>
<polygon fill="#f2855c"  points="768.3,151.5 771.7,151.2 771.8,152.3 768.5,152.7"/>
<polygon fill="#f2855c"  points="764.2,153.3 765.4,153.2 765.8,154.8 764.6,155.0"/>
</g>
<clipPath id="cG2"><rect x="590" y="226" width="80" height="44"/></clipPath>
<g id="tG2" clip-path="url(#cG2)">
<polygon fill="#ffffff"  points="589.7,225.7 672.8,225.7 672.8,270.4 589.7,270.4"/>
<polygon fill="#ffffff" stroke="#f6ca0c" stroke-width="0.75" stroke-opacity="0.9" points="611.5,244.6 613.5,242.3 615.8,240.3 618.1,239.8 620.4,240.6 622.1,242.3 624.4,242.9 626.7,242.0 629.5,242.3 632.4,242.6 635.3,242.0 638.1,241.0 641.0,240.9 643.9,241.5 645.0,243.2 646.4,244.9 647.6,246.6 647.0,248.9 645.9,250.6 643.9,252.1 641.6,253.2 638.7,254.4 635.8,255.5 633.0,256.4 630.1,257.2 627.2,257.8 624.4,257.2 622.1,255.8 620.4,254.7 617.5,255.2 616.1,254.7 616.9,252.9 619.2,251.8 618.1,250.4 615.8,249.5 612.9,249.2 612.3,248.6 614.6,248.1 617.5,247.8 618.7,246.6 616.9,245.8 614.1,245.5"/>
<polygon fill="#f6ca0c" fill-opacity="0.8" points="611.5,244.6 613.5,242.3 615.8,240.3 618.1,239.8 620.4,240.6 622.1,242.3 622.7,243.8 620.9,244.9 618.7,245.5 616.9,245.8 614.1,245.5"/>
</g>
<clipPath id="cG3"><rect x="862" y="328" width="48" height="46"/></clipPath>
<g id="tG3" clip-path="url(#cG3)">
<polygon fill="#f6ca0c"  points="819.5,299.5 970.5,299.5 970.5,380.7 819.5,380.7"/>
<polygon fill="#709c3c"  points="856.5,315.6 872.1,315.6 872.6,320.8 873.6,325.0 876.8,328.1 881.5,331.2 884.4,332.5 880.4,335.9 876.8,340.1 879.4,342.7 882.3,345.0 881.5,346.9 882.5,350.0 883.8,352.6 880.9,354.0 876.2,354.7 871.0,355.0 865.8,354.7 861.7,354.2 857.5,352.1 856.5,350.0"/>
<polygon fill="#ffc000"  points="872.1,315.6 910.6,315.6 910.6,366.7 907.5,366.7 906.5,364.6 904.4,360.4 902.3,356.8 900.7,353.1 899.2,349.0 896.0,345.8 892.9,343.8 889.8,341.7 890.8,339.1 892.9,337.0 897.1,335.4 897.6,331.8 894.0,330.2 888.8,330.4 884.6,332.3 884.4,332.5 881.5,331.2 876.8,328.1 873.6,325.0 872.6,320.8"/>
<polygon fill="#ffffff"  points="876.8,340.1 880.4,335.9 884.6,332.3 888.8,330.4 894.0,330.2 897.6,331.8 897.1,335.4 892.9,337.0 890.8,339.1 889.8,341.7 892.9,343.8 896.0,345.8 899.2,349.0 900.7,353.1 902.3,356.8 904.4,360.4 906.5,364.6 908.0,368.8 907.5,371.4 903.3,371.9 899.2,371.7 895.0,370.8 890.8,369.3 887.7,367.2 885.1,364.6 883.5,361.5 882.5,358.3 886.7,354.2 887.7,351.0 886.7,349.0 882.5,344.8 879.4,342.7"/>
<polygon fill="#ffffff"  points="866.4,355.7 870.0,355.0 874.2,354.7 878.3,354.2 881.5,353.1 883.5,355.2 883.5,358.3 883.0,361.5 880.4,362.5 876.8,363.5 873.1,363.8 870.0,362.5 867.9,359.9"/>
<polyline fill="none" stroke="#ffe48c" stroke-width="0.5" points="900.2,349.0 905.4,350.0 913.8,353.1 917.9,350.0"/>
<polygon fill="#ffffff"  points="861.1,362.5 865.8,362.2 869.0,362.5 869.8,366.7 869.0,370.0 864.8,370.3 861.1,370.8"/>
</g>
<clipPath id="cG4"><rect x="820" y="360" width="180" height="100"/></clipPath>
<g id="tG4" clip-path="url(#cG4)">
<polyline fill="none" stroke="#fbe48e" stroke-width="0.45" points="837.2,399.8 847.3,396.7 848.9,393.6 843.4,392.0 852.0,388.9 871.6,398.3 882.5,400.9 888.8,398.8"/>
<polyline fill="none" stroke="#fbe48e" stroke-width="0.45" points="852.0,388.9 858.3,378.8 859.8,371.7 868.4,370.9"/>
<polyline fill="none" stroke="#fbe48e" stroke-width="0.45" points="868.4,370.9 876.2,375.6 879.4,383.4 885.6,389.7 888.8,396.7"/>
<polyline fill="none" stroke="#fbe48e" stroke-width="0.45" points="871.6,439.7 873.1,447.5 870.8,453.8"/>
<polyline fill="none" stroke="#fbe48e" stroke-width="0.45" points="871.6,439.7 885.6,443.6 893.4,436.6 907.5,433.4 918.4,431.1 920.0,422.5 922.3,411.6"/>
<polyline fill="none" stroke="#fbe48e" stroke-width="0.45" points="904.4,420.2 913.8,421.7 919.2,420.2 921.6,412.3"/>
</g>
<g id="logo">
<polygon fill="#2b8cc4" points="1231.5,706.1 1245.1,706.1 1262.3,735.1 1244.5,735.1 1231.5,714"/>
<polygon fill="#3fc1cf" points="1231.5,720 1241.2,735.1 1231.5,735.1"/>
<polygon fill="#3fc1cf" points="1260.1,706.1 1269.2,706.1 1269.2,735.1 1264.2,735.1 1255.3,716.7"/>
<polygon fill="#2b8cc4" points="1272.1,710.6 1285.9,735.1 1272.1,735.1"/>
<polygon fill="#3fc1cf" points="1272.9,706.1 1285.9,706.1 1285.9,727.8"/>
</g>
</svg>
<div class="box" style="left:77px;top:543px;background:#709c3c;"></div>
<div class="box" style="left:77px;top:593px;height:29px;background:#f6ca0c;"></div>
<div class="box" style="left:80px;top:647px;height:29px;background:#ff6557;"></div>

<div class="t" style="left:346.9px;top:14.7px;transform:scaleX(0.9828);">Aquafeed</div>
<div class="t" style="left:488.5px;top:14.7px;transform:scaleX(0.9630);">Market-</div>
<div class="t" style="left:599.8px;top:14.7px;transform:scaleX(1.0354);">Growth</div>
<div class="t" style="left:712.3px;top:14.7px;transform:scaleX(0.9211);">Rate</div>
<div class="t" style="left:781.8px;top:14.7px;transform:scaleX(0.9406);">by</div>
<div class="t" style="left:821.5px;top:14.7px;transform:scaleX(0.9885);">Region</div>
<div class="t" style="left:927.1px;top:14.7px;transform:scaleX(0.9353);">(2019-2024)</div>
<div class="t" style="left:20.3px;top:493.7px;transform:scaleX(0.9654);">Regional</div>
<div class="t" style="left:148.9px;top:493.7px;transform:scaleX(1.0333);">Growth</div>
<div class="t" style="left:261.7px;top:493.7px;transform:scaleX(0.9008);">Rates</div>
<div class="t" style="left:149.3px;top:547.5px;transform:scaleX(1.0361);">High</div>
<div class="t" style="left:148.9px;top:602.4px;transform:scaleX(1.1065);">Mid</div>
<div class="t" style="left:152.9px;top:652.2px;transform:scaleX(0.9705);">Low</div>
<div class="t" style="left:78.0px;top:711.3px;transform:scaleX(0.9697);">Source:</div>
<div class="t" style="left:189.5px;top:711.3px;transform:scaleX(1.0208);">Mordor</div>
<div class="t" style="left:299.5px;top:711.3px;transform:scaleX(1.0159);">Intelligence</div>

</body></html>
